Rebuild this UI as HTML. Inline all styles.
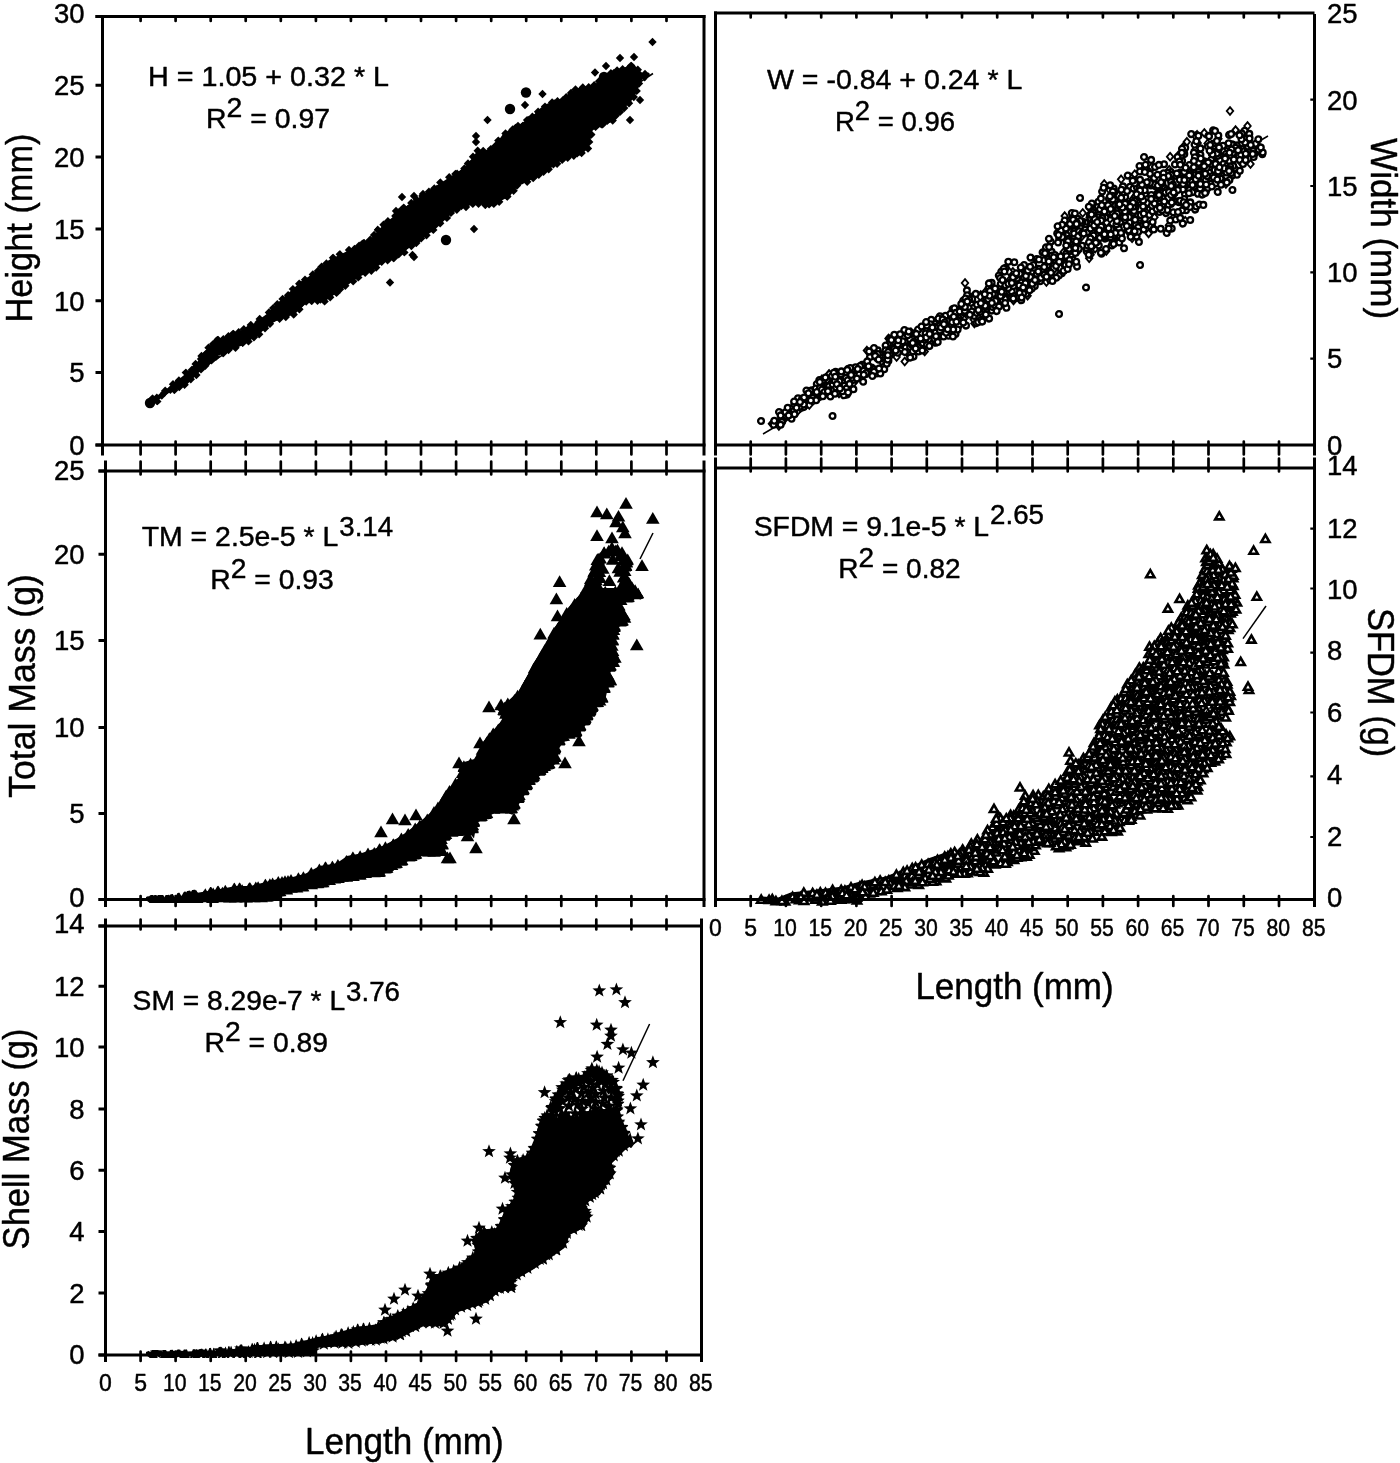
<!DOCTYPE html>
<html lang="en"><head><meta charset="utf-8"><title>Length relationships</title>
<style>html,body{margin:0;padding:0;background:#fff}svg{display:block}</style></head><body>
<svg width="1400" height="1463" viewBox="0 0 1400 1463" font-family="'Liberation Sans', Arial, sans-serif" fill="#000">
<rect width="1400" height="1463" fill="#fff"/>
<defs>
<marker id="md" markerUnits="userSpaceOnUse" markerWidth="12" markerHeight="12" refX="6" refY="6"><path d="M6,1.8L10.2,6L6,10.2L1.8,6Z" fill="#000"/></marker>
<marker id="mD" markerUnits="userSpaceOnUse" markerWidth="14" markerHeight="14" refX="7" refY="7"><circle cx="7" cy="7" r="5.2" fill="#000"/></marker>
<marker id="mc" markerUnits="userSpaceOnUse" markerWidth="12" markerHeight="12" refX="6" refY="6"><circle cx="6" cy="6" r="2.9" fill="#fff" stroke="#000" stroke-width="2.3"/></marker>
<marker id="mC" markerUnits="userSpaceOnUse" markerWidth="14" markerHeight="14" refX="7" refY="7"><circle cx="7" cy="7" r="4.2" fill="#fff" stroke="#000" stroke-width="2"/></marker>
<marker id="mo" markerUnits="userSpaceOnUse" markerWidth="12" markerHeight="12" refX="6" refY="6"><path d="M6,2.2L9.2,6L6,9.8L2.8,6Z" fill="#fff" stroke="#000" stroke-width="1.9"/></marker>
<marker id="mt" markerUnits="userSpaceOnUse" markerWidth="16" markerHeight="16" refX="8" refY="8"><path d="M8,1.5L14.8,13.2L1.2,13.2Z" fill="#000"/></marker>
<marker id="mT" markerUnits="userSpaceOnUse" markerWidth="16" markerHeight="16" refX="8" refY="8"><path d="M8,3.9L12.1,11L3.9,11Z" fill="#fff" stroke="#000" stroke-width="2.6" stroke-linejoin="miter"/></marker>
<marker id="ms" markerUnits="userSpaceOnUse" markerWidth="16" markerHeight="16" refX="8" refY="8"><path d="M8.00,0.80L9.76,5.57L14.85,5.78L10.85,8.93L12.23,13.82L8.00,11.00L3.77,13.82L5.15,8.93L1.15,5.78L6.24,5.57Z" fill="#000"/></marker>
</defs>
<clipPath id="cp1"><polygon points="146.0,399.0 165.0,385.0 177.5,375.0 191.0,364.0 200.0,350.0 212.5,338.0 235.0,329.0 250.0,321.0 265.0,310.0 280.0,295.0 300.0,277.0 315.0,268.0 326.0,257.0 335.0,252.5 350.0,245.0 367.5,237.5 377.5,225.0 387.5,216.0 407.5,200.0 437.5,180.0 462.5,164.0 473.0,150.0 476.0,133.0 480.0,147.0 490.0,145.0 500.0,131.0 515.0,122.5 530.0,112.5 545.0,100.0 562.5,94.0 572.5,85.0 592.5,81.0 605.0,70.0 630.0,61.0 641.0,66.0 650.0,74.0 646.0,81.0 637.5,100.0 615.0,125.0 596.0,133.0 592.5,150.0 582.5,159.0 565.0,163.0 550.0,174.0 540.0,180.0 520.0,190.0 512.0,200.0 492.0,210.0 475.0,208.0 455.0,216.0 437.5,233.0 420.0,245.0 400.0,260.0 385.0,266.0 375.0,274.0 360.0,281.0 340.0,296.0 325.0,306.0 310.0,305.0 297.5,317.5 275.0,326.0 260.0,339.0 242.5,350.0 220.0,359.0 207.5,370.0 190.0,387.5 175.0,394.0 155.0,407.0 146.0,406.0"/></clipPath>
<polygon points="146.0,399.0 165.0,385.0 177.5,375.0 191.0,364.0 200.0,350.0 212.5,338.0 235.0,329.0 250.0,321.0 265.0,310.0 280.0,295.0 300.0,277.0 315.0,268.0 326.0,257.0 335.0,252.5 350.0,245.0 367.5,237.5 377.5,225.0 387.5,216.0 407.5,200.0 437.5,180.0 462.5,164.0 473.0,150.0 476.0,133.0 480.0,147.0 490.0,145.0 500.0,131.0 515.0,122.5 530.0,112.5 545.0,100.0 562.5,94.0 572.5,85.0 592.5,81.0 605.0,70.0 630.0,61.0 641.0,66.0 650.0,74.0 646.0,81.0 637.5,100.0 615.0,125.0 596.0,133.0 592.5,150.0 582.5,159.0 565.0,163.0 550.0,174.0 540.0,180.0 520.0,190.0 512.0,200.0 492.0,210.0 475.0,208.0 455.0,216.0 437.5,233.0 420.0,245.0 400.0,260.0 385.0,266.0 375.0,274.0 360.0,281.0 340.0,296.0 325.0,306.0 310.0,305.0 297.5,317.5 275.0,326.0 260.0,339.0 242.5,350.0 220.0,359.0 207.5,370.0 190.0,387.5 175.0,394.0 155.0,407.0 146.0,406.0" fill="#000" stroke="#fff" stroke-width="8.4" stroke-linejoin="round"/>
<g clip-path="url(#cp1)">
<polyline points="250.8,324.9 557.5,101.2 610.9,73.3 393.7,258.2 624.2,108.0 242.7,342.9 165.2,390.7 282.6,299.0 644.7,77.3 358.3,277.4 416.3,243.1 449.2,177.2 223.2,353.3 339.8,254.2 270.0,323.8 538.8,174.7 571.0,92.9 178.9,380.4 259.2,334.2 317.5,300.7 545.0,106.6 411.4,246.0 395.3,215.9 317.9,271.0 477.7,150.8 312.8,274.5 573.8,155.7 591.4,134.6 403.7,207.6 321.6,266.8 268.9,312.4 468.0,163.5 376.2,267.6 359.1,245.7 152.5,398.4 637.8,69.7 622.6,69.2 527.2,181.8 411.3,203.0 498.3,140.6 615.6,115.7 293.7,314.5 446.9,217.9 472.8,203.9 507.3,196.6 633.8,97.0 233.2,333.6 567.7,157.8 243.8,329.3 426.5,235.2 235.5,347.8 557.1,163.8 532.4,116.8 217.7,339.5 602.6,124.4 595.6,126.9 599.1,81.2 201.5,356.0 279.6,318.7 416.7,199.9 440.3,182.5 371.3,270.8 211.5,360.4 299.4,309.3 174.4,390.0 191.8,370.0 588.0,148.5 464.4,168.5 566.2,97.2 185.8,372.6 306.2,301.5 512.7,129.4 473.0,156.7 161.8,395.6 588.7,87.3 421.2,238.3 148.3,404.3 195.6,363.9 377.7,229.8 305.0,279.8 353.2,281.2 505.5,133.5 285.8,317.0 326.4,263.4 259.7,318.9 208.5,347.7 215.9,356.9 336.5,292.9 374.1,235.0 629.0,103.3 349.0,250.0 456.8,209.8 398.7,254.3 636.7,90.9 548.7,169.2 205.3,365.7 639.0,83.6 345.3,285.8 404.4,252.4 383.5,224.8 493.8,203.9 370.2,239.8 265.0,328.3 387.9,221.3 533.2,178.1 455.4,174.0 387.6,260.3 422.4,195.9 433.3,229.9 478.5,203.8 201.0,369.4 381.7,261.8 288.1,295.2 543.6,171.7 631.2,65.6 333.0,257.7 248.5,341.4 428.9,191.7 184.6,384.7 513.6,190.7 581.6,153.0 582.8,87.4 499.2,201.8 223.3,339.2 490.8,149.1 517.0,185.6 324.6,301.4 440.2,223.3 527.1,120.1 190.8,379.2 330.2,297.2 238.7,332.3 299.2,283.8 228.4,336.2 612.7,120.6 173.0,384.2 363.6,242.5 466.0,207.0 604.2,77.3 450.9,212.9 485.3,205.1 273.2,308.1 365.2,272.7 594.2,85.3 649.9,74.5 617.1,70.4 213.1,344.1 434.3,188.4 589.2,141.9 253.9,337.3 179.3,387.1 620.0,111.9 552.1,102.5 518.0,125.9 538.1,111.7 228.5,350.0 277.3,304.2 562.2,159.7 495.4,145.9 292.9,289.1 311.7,301.1 399.4,211.8 157.3,401.4 196.4,375.0 483.2,150.9 575.5,89.4 418.4,239.2 392.1,223.4 403.0,248.7 510.3,132.5 258.6,329.0 621.7,72.4 578.7,92.1 472.6,201.0 366.6,268.6 638.7,75.6 381.4,261.1 372.8,241.0 631.6,95.7 583.1,147.2 622.1,105.5 348.5,255.3 310.0,299.3 504.7,138.4 326.7,265.5 183.5,382.3 340.0,289.3 223.0,343.3 476.2,157.1 613.4,117.0 577.2,153.2 528.9,120.0 285.5,302.0 500.4,197.5 332.1,291.2 377.9,235.6 493.3,153.3 480.9,200.6 601.3,124.3 613.8,73.1 437.0,188.9 416.9,202.1 453.1,179.2 280.7,316.6 202.3,366.6 190.4,373.2 292.9,311.2 541.6,111.1 590.4,127.5 294.4,293.8 357.9,274.4 301.3,303.9 208.5,361.5 509.2,190.0 214.4,343.5 210.8,349.0 557.6,159.0 497.2,144.8 461.4,206.1 320.4,299.6 231.1,345.9 239.6,335.5 300.9,284.9 228.4,338.5 321.9,271.0 587.3,91.2 635.6,85.8 530.1,175.6 354.5,249.0 522.7,126.0 205.6,354.3 269.5,320.7 242.7,342.5 586.4,141.4 438.2,220.4 562.6,100.5 549.0,107.4 444.9,213.6 617.6,110.7 543.4,169.8 385.4,226.4 156.8,397.7 450.7,208.5 249.8,327.6 470.8,164.3 254.3,335.2 219.1,351.7 361.2,247.2 397.0,254.5 346.9,281.4 401.1,211.5 447.4,183.7 514.9,183.9 495.4,201.7 483.9,155.4 463.4,171.3 170.4,389.7 431.4,192.7 424.0,197.0 397.6,217.7 433.1,225.8 338.9,258.7 279.5,305.4 310.1,280.0 388.9,258.5 571.6,94.4 315.4,275.7 270.1,313.4 554.2,103.4 423.3,233.1 373.0,264.7 522.1,180.1 570.3,153.3 553.4,164.3 600.4,83.1 326.3,296.3 195.0,367.8 264.4,326.1 412.0,243.4 407.8,209.3 536.8,116.1 177.0,383.4 332.4,261.2 628.3,68.7 607.5,77.0 164.4,392.7 515.5,128.0 201.0,358.9 366.7,243.6 213.2,356.9 589.6,135.2 150.9,402.5 489.1,204.4 607.2,120.7 258.5,322.3 457.1,173.8 286.2,312.2 564.1,157.2 536.8,174.2 594.5,87.4 627.7,101.1 247.9,337.6 507.1,196.4" fill="none" stroke="none" marker-start="url(#md)" marker-mid="url(#md)" marker-end="url(#md)"/>
</g>
<polyline points="476.0,136.0 476.0,142.0 652.5,42.0 595.0,72.5 542.5,94.0 525.0,105.0 487.5,120.0 630.0,120.0 640.0,100.0 474.0,229.0 446.0,240.0 412.5,255.0 390.0,282.5 414.0,257.0 396.0,211.0 402.0,197.0 414.0,196.0 423.0,194.0 396.0,222.0 645.0,74.0 634.0,57.0 620.0,58.0 606.0,66.0" fill="none" stroke="none" marker-start="url(#md)" marker-mid="url(#md)" marker-end="url(#md)"/>
<polyline points="150.0,403.0 526.0,92.5 510.0,109.0 446.0,240.0 604.0,77.0 632.0,70.0" fill="none" stroke="none" marker-start="url(#mD)" marker-mid="url(#mD)" marker-end="url(#mD)"/>
<path d="M150,402.5L653,73.5" stroke="#000" stroke-width="1.5" fill="none"/>
<clipPath id="cp2"><polygon points="146.0,897.0 151.0,895.0 167.5,895.0 192.5,890.0 222.5,885.0 235.0,882.5 250.0,882.5 275.0,876.0 290.0,874.0 305.0,870.0 319.0,862.5 335.0,860.0 346.0,852.5 360.0,850.0 375.0,845.0 383.0,842.0 394.0,836.0 405.0,829.0 420.0,817.0 432.5,806.0 442.5,790.0 457.5,774.0 459.0,760.0 472.5,756.0 480.0,740.0 491.0,727.5 500.0,717.5 489.0,706.0 501.0,702.5 516.0,689.0 525.0,672.5 530.0,662.0 541.0,645.0 550.0,628.0 565.0,606.0 580.0,589.0 588.6,570.0 592.8,555.0 599.0,548.0 610.0,540.0 622.0,545.0 635.7,555.0 631.4,574.0 644.0,598.0 625.0,606.0 635.7,621.0 620.7,630.0 618.6,647.0 624.0,662.0 614.0,673.0 620.0,683.0 611.0,690.0 607.5,706.0 600.0,708.0 590.0,725.0 579.0,740.0 567.5,741.0 560.0,754.0 565.0,763.0 550.0,771.0 535.0,785.0 522.5,805.0 514.0,819.0 500.0,814.0 480.0,825.0 476.0,847.0 467.5,836.0 450.0,840.0 447.5,857.0 425.0,857.0 400.0,869.0 382.5,878.0 370.0,879.0 345.0,884.0 312.5,891.0 282.5,897.0 270.0,903.0 150.0,903.0 146.0,900.0"/></clipPath>
<polygon points="146.0,897.0 151.0,895.0 167.5,895.0 192.5,890.0 222.5,885.0 235.0,882.5 250.0,882.5 275.0,876.0 290.0,874.0 305.0,870.0 319.0,862.5 335.0,860.0 346.0,852.5 360.0,850.0 375.0,845.0 383.0,842.0 394.0,836.0 405.0,829.0 420.0,817.0 432.5,806.0 442.5,790.0 457.5,774.0 459.0,760.0 472.5,756.0 480.0,740.0 491.0,727.5 500.0,717.5 489.0,706.0 501.0,702.5 516.0,689.0 525.0,672.5 530.0,662.0 541.0,645.0 550.0,628.0 565.0,606.0 580.0,589.0 588.6,570.0 592.8,555.0 599.0,548.0 610.0,540.0 622.0,545.0 635.7,555.0 631.4,574.0 644.0,598.0 625.0,606.0 635.7,621.0 620.7,630.0 618.6,647.0 624.0,662.0 614.0,673.0 620.0,683.0 611.0,690.0 607.5,706.0 600.0,708.0 590.0,725.0 579.0,740.0 567.5,741.0 560.0,754.0 565.0,763.0 550.0,771.0 535.0,785.0 522.5,805.0 514.0,819.0 500.0,814.0 480.0,825.0 476.0,847.0 467.5,836.0 450.0,840.0 447.5,857.0 425.0,857.0 400.0,869.0 382.5,878.0 370.0,879.0 345.0,884.0 312.5,891.0 282.5,897.0 270.0,903.0 150.0,903.0 146.0,900.0" fill="#000" stroke="#fff" stroke-width="7" stroke-linejoin="round"/>
<polygon points="583.0,588.0 650.0,588.0 652.0,538.0 596.0,538.0" fill="#fff"/>
<g clip-path="url(#cp2)">
<polyline points="559.6,740.2 402.1,860.5 155.4,899.7 368.0,854.0 633.6,591.6 480.7,754.4 346.4,861.4 604.7,687.9 434.0,812.6 534.6,668.0 455.6,784.0 291.0,887.5 474.3,821.9 393.4,844.7 486.7,743.1 385.4,847.7 178.0,899.5 442.5,844.4 628.3,597.2 610.6,680.2 519.2,797.8 278.3,882.5 210.7,892.5 595.8,565.2 498.3,730.1 196.7,897.8 466.7,830.1 514.8,804.4 311.3,873.6 566.7,613.6 446.2,796.0 302.7,886.2 239.6,888.5 540.5,770.6 581.2,598.1 597.4,702.0 411.1,856.0 457.3,830.7 451.7,831.6 610.9,666.5 298.4,878.7 470.6,764.2 235.9,897.3 352.9,857.8 188.7,894.6 329.2,879.8 374.3,853.4 626.0,578.7 482.5,749.5 554.1,633.2 487.1,813.7 504.6,708.3 261.1,897.1 415.2,828.9 489.4,738.8 614.9,657.6 527.9,681.3 311.3,884.0 493.6,808.5 203.9,897.1 615.1,626.9 531.2,675.8 319.4,870.1 505.7,713.6 379.6,871.7 217.8,896.9 438.0,808.0 506.2,720.0 353.0,875.7 317.7,883.1 644.3,598.2 272.6,884.1 234.3,888.7 525.4,685.8 274.9,893.2 249.7,887.9 590.8,580.6 534.1,777.4 325.5,867.6 576.9,732.2 622.2,612.5 522.7,691.0 541.9,656.1 246.1,897.4 613.2,634.6 556.3,749.4 622.8,621.4 611.9,548.0 434.1,851.5 338.0,877.9 511.6,808.4 611.8,645.5 279.9,891.3 291.0,880.6 212.5,898.4 544.6,765.9 549.4,643.4 586.1,592.3 408.2,834.6 589.4,586.3 145.8,898.0 604.2,553.4 568.9,733.6 514.5,700.5 580.6,726.3 229.9,897.3 429.0,851.4 391.6,864.9 620.7,599.8 574.7,604.5 612.6,650.8 607.8,675.1 586.5,720.1 360.1,856.8 416.1,854.2 549.6,764.3 218.0,891.6 612.8,640.4 561.4,623.4 597.3,559.8 502.8,724.3 618.8,605.3 627.7,560.1 223.7,897.0 401.4,839.0 629.0,583.4 622.0,552.7 427.3,820.0 184.8,898.6 591.2,711.5 523.9,790.1 167.5,898.3 555.1,756.5 442.3,803.3 493.2,734.0 379.6,849.5 161.3,898.2 265.4,885.0 337.9,865.5 538.2,662.2 517.6,696.3 602.3,697.5 365.2,872.8 373.9,872.1 477.3,761.3 285.0,881.7 594.1,572.1 462.6,772.9 529.5,779.7 463.9,766.7 346.3,876.6 441.5,850.9 225.3,891.2 481.4,816.3 507.8,703.9 558.3,628.6 593.0,706.7 444.7,835.5 571.4,610.3 172.3,900.4 638.2,594.1 332.4,867.1 419.8,826.0 626.0,565.7 449.5,791.5 472.8,828.0 303.4,877.8 322.9,882.3 424.0,851.1 270.2,896.5 387.2,868.3 360.0,874.5 253.8,897.0 296.6,887.4 461.6,779.1 255.8,888.0 193.6,893.9 501.7,808.4 587.7,715.2 617.5,550.2 563.4,736.1 551.9,638.6 286.3,889.3 565.4,618.9 396.5,863.4 527.4,785.1 544.8,650.5 624.7,570.9 190.2,899.5 545.7,762.3 551.8,750.1 277.1,887.7 482.6,814.1 435.6,847.3 425.7,823.9 558.7,736.6 623.4,590.5 396.5,859.2 490.8,741.0 420.8,850.1 515.9,702.6 590.3,708.0 451.8,794.0 544.1,655.7 565.1,623.7 408.5,856.1 441.6,809.3 451.7,828.1 506.1,723.6 458.3,828.2 293.5,886.2 572.0,612.8 527.7,683.2 599.4,565.3 512.9,797.8 599.8,693.6 488.6,807.4 623.8,559.7 611.3,654.4 380.1,852.0 286.0,888.4 249.1,890.0 342.0,876.5 512.3,805.4 518.9,794.8 297.7,881.8 635.1,590.7 331.5,871.8 304.3,881.1 542.0,665.2 499.0,731.4 602.8,674.5 581.9,720.1 596.0,580.0 624.3,566.4 378.5,868.6 521.9,788.3 497.9,806.7 508.6,714.2 314.0,882.1 472.4,825.1 481.3,755.5 553.4,759.4 608.2,637.2 600.2,558.4 577.3,603.6 414.8,850.1 467.9,770.9 195.8,896.0 430.5,818.9 613.4,661.8 419.3,828.6 528.2,776.9 400.9,841.8 351.9,861.4 562.1,631.3 258.1,887.8 263.8,892.6 618.2,606.1 410.8,836.0 615.4,592.1 532.1,677.7 356.9,872.2 392.8,845.8 479.3,761.6 234.9,890.9 428.5,849.7 605.2,592.3 366.0,868.9 321.1,872.0 504.6,806.9 361.5,861.2 623.7,577.2 615.8,550.9 323.0,880.3 525.6,689.0 627.2,584.7 441.0,838.9 346.0,864.4 590.7,591.8 372.2,871.4 388.6,850.9 552.6,647.1 282.0,882.6 619.3,597.6 159.1,899.2 184.8,896.7 463.8,780.6 334.3,878.4 618.1,619.5 258.3,895.4 586.1,598.1 242.2,890.7 574.6,727.9 553.6,741.1 374.6,856.3 620.1,571.6 591.9,699.7 602.3,685.4 486.8,751.1 613.5,629.7 599.4,571.9 607.3,649.8 608.3,682.4 387.2,865.7 222.4,893.2 606.7,664.2 627.8,595.0 608.7,551.3 567.7,617.1 337.3,868.9 269.9,884.7 536.9,673.2 456.0,789.4 562.8,729.9 348.6,872.9 213.2,894.0 609.5,643.4 471.5,817.5 510.0,706.5 535.6,767.8 599.4,588.8 521.4,696.7 555.8,632.7 230.6,895.1 445.5,833.9 401.8,854.8 590.1,584.7 525.0,782.2 624.5,617.6 444.8,800.8 367.4,859.6 271.4,891.8 171.6,898.6 611.5,623.1 436.6,813.4 586.0,713.2 474.2,766.6 620.1,612.8 554.7,640.5 466.8,828.5 288.0,881.6 503.7,710.4 315.6,876.3 599.6,700.3 496.6,737.6 205.3,894.8 151.6,898.6 569.3,730.8 238.8,896.0 533.9,774.3 542.2,767.7 245.1,896.2 178.6,897.7 458.5,783.8 441.2,849.6 511.3,720.4 309.3,877.3 546.9,649.5 536.4,667.2 612.8,559.6 604.1,552.8 596.6,585.8 609.4,580.7 618.4,568.1 626.5,562.4 602.8,568.6 599.9,577.8 621.8,585.9 620.6,556.0 598.4,559.4 624.4,576.8 613.5,551.1 586.8,588.3 632.1,588.0 594.5,571.0 590.8,578.8" fill="none" stroke="none" marker-start="url(#mt)" marker-mid="url(#mt)" marker-end="url(#mt)"/>
</g>
<polyline points="626.0,503.5 597.0,512.0 606.8,514.0 618.5,516.4 652.8,518.5 622.8,527.0 597.0,535.7 612.0,538.0 642.0,565.7 559.6,581.8 556.4,599.0 557.5,616.0 540.3,634.3 636.8,645.0 616.0,522.0 625.0,533.0 381.0,832.0 392.5,819.0 405.0,820.0 416.0,815.0 459.0,763.0 480.0,743.0 489.0,707.0 501.0,705.0 447.5,858.0 467.5,836.0 476.0,848.0 514.0,819.0 565.0,763.0 579.0,741.0 450.0,858.0" fill="none" stroke="none" marker-start="url(#mt)" marker-mid="url(#mt)" marker-end="url(#mt)"/>
<path d="M640,559L653,533" stroke="#000" stroke-width="1.5" fill="none"/>
<clipPath id="cp3"><polygon points="146.0,1352.0 151.0,1350.0 167.5,1350.0 200.0,1349.0 237.5,1345.0 265.0,1341.0 292.5,1340.0 312.5,1335.0 335.0,1330.0 355.0,1324.0 375.0,1321.0 385.0,1315.0 400.0,1308.0 415.0,1300.0 424.0,1286.0 430.0,1273.5 444.0,1267.5 457.5,1262.5 472.5,1250.0 467.5,1240.0 479.0,1226.0 495.0,1225.0 502.5,1207.5 512.5,1195.0 505.0,1176.0 510.0,1156.0 525.0,1152.5 530.7,1138.6 537.0,1119.0 545.7,1106.0 554.0,1087.0 565.0,1074.0 582.0,1070.0 593.0,1059.0 603.6,1065.0 620.7,1078.6 625.0,1095.7 623.0,1113.0 629.0,1128.0 633.6,1143.0 637.5,1140.0 627.5,1152.5 615.0,1165.0 620.0,1172.5 612.5,1182.5 602.5,1197.5 590.0,1205.0 595.0,1215.0 587.5,1230.0 572.5,1237.5 567.5,1250.0 550.0,1262.5 535.0,1272.5 517.5,1282.5 520.0,1292.5 500.0,1295.0 490.0,1305.0 460.0,1315.0 447.5,1330.0 425.0,1329.5 412.0,1336.0 400.0,1342.0 382.5,1346.5 350.0,1349.5 320.0,1351.0 317.0,1358.0 150.0,1358.0 146.0,1355.0"/></clipPath>
<polygon points="146.0,1352.0 151.0,1350.0 167.5,1350.0 200.0,1349.0 237.5,1345.0 265.0,1341.0 292.5,1340.0 312.5,1335.0 335.0,1330.0 355.0,1324.0 375.0,1321.0 385.0,1315.0 400.0,1308.0 415.0,1300.0 424.0,1286.0 430.0,1273.5 444.0,1267.5 457.5,1262.5 472.5,1250.0 467.5,1240.0 479.0,1226.0 495.0,1225.0 502.5,1207.5 512.5,1195.0 505.0,1176.0 510.0,1156.0 525.0,1152.5 530.7,1138.6 537.0,1119.0 545.7,1106.0 554.0,1087.0 565.0,1074.0 582.0,1070.0 593.0,1059.0 603.6,1065.0 620.7,1078.6 625.0,1095.7 623.0,1113.0 629.0,1128.0 633.6,1143.0 637.5,1140.0 627.5,1152.5 615.0,1165.0 620.0,1172.5 612.5,1182.5 602.5,1197.5 590.0,1205.0 595.0,1215.0 587.5,1230.0 572.5,1237.5 567.5,1250.0 550.0,1262.5 535.0,1272.5 517.5,1282.5 520.0,1292.5 500.0,1295.0 490.0,1305.0 460.0,1315.0 447.5,1330.0 425.0,1329.5 412.0,1336.0 400.0,1342.0 382.5,1346.5 350.0,1349.5 320.0,1351.0 317.0,1358.0 150.0,1358.0 146.0,1355.0" fill="#000" stroke="#fff" stroke-width="7" stroke-linejoin="round"/>
<polygon points="530.0,1120.0 634.0,1112.0 642.0,1055.0 585.0,1050.0 550.0,1066.0" fill="#fff"/>
<g clip-path="url(#cp3)">
<polyline points="147.3,1354.0 563.1,1242.9 476.5,1238.2 383.5,1338.8 459.5,1267.9 629.4,1144.1 429.6,1322.8 348.3,1343.1 511.7,1276.9 610.4,1167.7 616.3,1089.1 231.1,1352.7 586.7,1217.0 392.6,1337.0 555.1,1098.7 397.8,1315.9 443.5,1323.3 451.6,1314.3 596.8,1070.2 478.2,1251.6 594.9,1192.8 548.8,1254.6 543.1,1259.3 375.9,1339.9 323.9,1343.9 537.3,1139.0 186.2,1354.5 503.8,1219.4 363.5,1328.8 241.0,1348.6 613.8,1155.8 407.9,1311.8 290.8,1347.1 422.9,1300.1 550.6,1107.5 514.8,1201.9 618.8,1151.0 440.7,1276.5 534.8,1263.2 307.0,1351.6 494.8,1290.9 205.8,1354.4 213.7,1354.5 542.7,1120.7 516.8,1274.7 585.0,1211.2 316.1,1341.3 562.0,1087.5 511.3,1287.4 618.7,1121.9 165.4,1355.2 428.5,1293.5 569.6,1079.7 257.9,1353.4 616.9,1109.7 507.7,1210.4 156.7,1352.7 327.9,1339.5 448.3,1272.9 478.2,1302.4 538.8,1133.4 284.9,1347.4 342.3,1342.9 309.1,1342.9 625.4,1133.1 267.2,1352.4 406.2,1331.2 336.1,1336.7 422.3,1322.6 472.8,1257.9 589.9,1197.2 484.1,1232.3 467.8,1262.4 603.1,1183.8 313.1,1350.7 527.4,1268.1 273.2,1352.5 383.9,1322.5 276.3,1346.9 623.9,1145.6 172.3,1355.1 378.3,1327.3 534.3,1148.2 247.2,1353.3 566.9,1233.1 430.5,1284.6 270.6,1346.9 532.3,1153.0 478.2,1245.5 573.2,1229.1 584.2,1077.2 461.1,1306.9 630.4,1138.7 541.0,1125.9 400.3,1334.9 196.2,1355.2 581.3,1225.6 514.1,1165.3 252.2,1349.5 301.6,1343.9 556.5,1250.2 511.9,1174.7 523.1,1160.3 264.1,1348.4 370.6,1340.2 467.2,1305.5 612.1,1080.2 369.4,1328.8 355.8,1342.1 517.5,1192.1 505.1,1287.7 618.7,1096.0 390.3,1319.5 357.7,1329.7 591.5,1070.3 415.2,1326.4 322.5,1339.1 608.9,1161.7 618.2,1104.0 576.2,1077.8 606.6,1075.8 491.8,1232.3 334.4,1342.7 242.1,1354.1 220.0,1350.7 200.9,1351.9 179.0,1353.3 558.2,1094.7 280.6,1351.7 635.4,1142.4 298.0,1352.2 521.2,1271.8 236.7,1352.9 453.7,1271.0 296.1,1345.9 413.2,1308.5 500.7,1226.1 361.8,1340.9 348.1,1333.3 448.0,1319.1 490.0,1295.8 547.0,1115.6 257.4,1347.5 497.8,1230.6 433.8,1278.9 600.3,1188.9 617.6,1116.7 585.3,1200.8 514.5,1183.3 606.4,1180.0 518.0,1197.9 485.2,1299.1 622.4,1127.3 152.5,1355.9 609.8,1173.7 527.5,1157.9 455.1,1309.7 435.0,1322.9 225.5,1353.5 418.3,1306.0 517.4,1160.7 602.0,1072.8 288.9,1352.4 341.2,1334.6 472.0,1303.6 511.2,1282.0 564.3,1237.8 403.5,1314.3 511.8,1206.4 566.2,1083.7 353.3,1332.3 499.9,1288.2 454.1,1305.1 604.6,1173.1 410.0,1326.5 480.2,1254.3 566.7,1231.0 530.8,1262.9 507.2,1222.0 505.8,1279.0 585.9,1077.5 358.2,1332.5 518.3,1168.9 535.0,1149.2 228.9,1352.2 606.9,1160.6 392.7,1335.0 520.9,1270.8 563.1,1121.4 502.5,1233.7 387.0,1323.1 380.5,1337.9 472.8,1263.7 366.7,1332.7 561.7,1241.8 465.7,1304.4 621.3,1133.0 520.2,1199.0 600.9,1184.6 343.3,1342.2 578.5,1225.1 618.0,1123.4 510.1,1286.4 450.1,1315.1 472.4,1300.1 539.8,1259.2 517.2,1205.3 554.8,1243.9 592.4,1071.9 278.6,1349.4 541.6,1138.4 371.4,1338.6 298.2,1350.9 609.4,1080.8 485.4,1235.0 355.2,1340.1 396.0,1319.5 581.1,1208.1 254.5,1349.9 454.8,1274.9 420.1,1310.1 291.7,1350.9 581.8,1219.5 616.9,1100.9 592.2,1194.5 560.0,1095.6 615.8,1151.1 430.5,1321.4 221.7,1353.5 478.1,1242.2 576.5,1119.6 416.0,1323.7 585.2,1213.9 487.3,1293.5 522.1,1189.1 462.8,1270.5 548.0,1121.5 482.9,1246.7 334.2,1338.4 554.4,1110.3 515.0,1176.6 519.5,1183.6 527.5,1162.8 602.5,1115.3 611.4,1089.4 542.5,1126.9 262.2,1351.2 312.6,1343.3 534.6,1156.6 585.0,1116.3 375.4,1330.4 568.3,1087.1 184.5,1354.5 550.7,1249.9 619.4,1144.4 613.8,1110.7 440.1,1276.5 411.4,1314.9 236.8,1351.7 570.9,1081.3 350.5,1335.7 512.0,1275.4 447.9,1276.7 595.7,1114.8 581.6,1196.7 422.5,1318.9 401.7,1331.4 558.4,1104.6 363.7,1340.1 430.5,1294.6 201.3,1353.7 386.7,1334.8 327.7,1342.2 402.8,1315.5 497.3,1287.7 163.9,1354.2 572.7,1227.0 285.8,1348.2 546.2,1254.7 594.6,1186.6 302.8,1346.2 524.2,1265.4 600.9,1075.1 424.1,1305.4 613.6,1119.3 604.0,1179.4 426.8,1299.7 479.2,1300.4 441.4,1320.3 578.6,1202.0 308.6,1348.8 556.3,1121.2 510.8,1212.1 381.6,1328.7 517.3,1162.8 248.5,1352.3 625.3,1140.8 568.5,1118.0 342.4,1335.7 431.7,1286.4 494.5,1234.3 503.5,1285.0 579.1,1082.3 607.3,1166.9 491.1,1287.5 321.7,1340.7 539.5,1144.6 552.5,1116.2 270.8,1348.8 210.1,1353.0 616.8,1093.7 563.1,1235.8 437.3,1282.9 171.3,1353.6 193.8,1353.8 466.3,1264.6 178.1,1353.6 501.7,1226.7 154.1,1354.5 562.8,1090.0 608.7,1114.2 610.2,1154.1 475.3,1258.0 559.8,1108.5 564.8,1089.7 597.3,1084.6 560.5,1116.1 575.9,1089.1 599.1,1071.7 595.6,1101.9 590.4,1113.4 603.4,1091.1 565.8,1113.9 569.0,1106.0 605.2,1084.3 610.5,1088.0 583.9,1087.3 608.9,1106.0 562.2,1100.8 588.4,1092.7 584.6,1079.8 588.2,1103.1 581.9,1109.3 616.7,1110.8 617.8,1094.2 572.7,1084.1 581.7,1115.1 555.6,1101.5 591.9,1068.8 575.1,1113.6 607.3,1111.6 581.5,1093.5 577.7,1104.7 544.7,1118.1 613.2,1082.2 582.6,1101.3 611.1,1097.7 552.8,1107.3 559.9,1095.5 595.0,1108.7 601.0,1079.4 592.7,1087.9 590.6,1082.0 595.8,1094.2 604.3,1097.9 618.1,1100.9 568.3,1080.4 574.6,1099.2 578.7,1079.0 551.0,1115.7 595.1,1077.0 571.0,1092.6 601.0,1111.4 607.6,1078.4 587.9,1073.4 616.3,1088.3 568.4,1097.7 602.8,1103.6 591.0,1097.8" fill="none" stroke="none" marker-start="url(#ms)" marker-mid="url(#ms)" marker-end="url(#ms)"/>
</g>
<polyline points="599.3,990.7 616.4,989.6 625.0,1002.5 560.3,1022.4 596.7,1025.0 607.4,1044.3 622.9,1049.6 631.4,1052.9 652.9,1062.5 597.1,1057.0 618.6,1067.9 643.2,1085.0 636.8,1095.7 630.4,1108.6 641.0,1124.6 637.9,1138.6 544.6,1092.5 489.0,1151.4 510.4,1153.6 476.0,1319.0 447.5,1331.0 394.0,1299.0 405.0,1290.0 385.0,1310.0 418.0,1296.0 430.0,1274.0 467.5,1241.0 479.0,1228.0 502.5,1209.0 505.0,1178.0 510.0,1158.0 611.0,1030.0 611.0,1036.0" fill="none" stroke="none" marker-start="url(#ms)" marker-mid="url(#ms)" marker-end="url(#ms)"/>
<path d="M623,1080.7L649.6,1024" stroke="#000" stroke-width="1.5" fill="none"/>
<path d="M763,434L1268,136" stroke="#000" stroke-width="1.5" fill="none"/>
<polyline points="1224.0,157.2 944.4,320.5 1097.2,219.1 867.0,371.5 1148.6,233.4 1132.1,238.3 985.2,307.3 1173.3,217.9 1066.3,268.9 955.2,328.9 1122.5,209.2 1089.2,258.3 1106.3,251.0 821.9,379.2 799.8,406.0 1128.2,218.3 785.4,413.7 881.1,358.5 775.4,422.2 1162.0,196.6 1256.1,152.7 1218.4,138.8 835.5,382.1 892.2,349.7 1013.8,294.3 828.9,374.3 1050.0,256.8 785.4,418.0 994.7,295.3 1225.9,149.9 1210.0,178.7 1186.9,141.8 1230.1,162.3 935.2,332.7 1002.1,284.6 778.9,426.0 1229.6,147.7 1109.6,190.0 1214.4,160.5 1081.7,236.5 1138.3,202.3 1144.1,194.2 1245.7,149.9 1132.9,199.0 1178.4,188.2 963.8,318.9 1114.9,200.1 1126.8,205.3 1051.4,252.1 1182.1,187.0 1141.6,167.6 1107.4,230.6 839.0,393.4 1169.2,169.7 924.7,351.6 1154.7,212.2 1064.7,216.1 821.7,384.0 1202.7,165.7 1141.4,203.5 984.9,292.5 1201.5,159.9 965.0,283.0 1005.9,297.8 840.0,383.7 1131.2,230.4 1081.7,231.7 916.5,348.6 1153.1,227.2 1188.0,182.2 1152.1,197.1 805.9,398.0 1186.9,170.9 1005.6,299.0 1121.1,179.3 1118.0,195.1 992.9,291.1 1241.4,163.0 1238.1,154.9 1175.1,175.2 1225.9,184.1 885.8,353.3 1153.0,215.6 853.2,383.6 1192.6,171.9 1161.7,195.7 1071.6,218.3 1197.7,143.1 881.8,361.4 1201.9,173.8 1118.4,225.1 1223.7,166.0 962.3,314.3 1250.5,164.0 1215.6,160.9 1090.1,253.1 1095.1,248.7 838.2,391.5 1154.5,217.2 1223.2,159.6 1197.1,134.8 1060.3,268.3 1217.6,161.2 1063.7,251.9 1160.6,191.2 967.5,297.5 789.0,415.3 904.7,361.5 1207.6,143.5 1187.2,177.1 1151.4,168.8 896.6,357.0 1146.8,212.7 798.8,403.9 1082.7,213.0 1095.4,223.2 829.7,384.2 1165.0,187.9 1067.0,228.4 1127.1,230.3 833.8,382.8 1249.2,136.9 1249.4,149.0 1169.4,189.0 1027.6,295.8 1194.8,183.4 1204.3,133.0 1184.1,207.3 837.1,387.7 1194.9,150.0 861.7,376.8 1185.2,220.7 1241.0,155.0 839.7,388.3 1137.6,224.8 1223.4,155.3 1057.3,262.6 1104.2,183.9 985.1,297.6 1147.1,204.2 1098.5,208.3 1221.3,168.2 1220.0,160.1 1105.4,206.7 1131.6,178.0 923.8,338.2 906.0,336.1 1012.9,271.8 866.9,350.6 1209.1,175.6 1246.1,155.7 857.1,378.7 1009.2,280.5 920.4,327.9 930.7,321.6 1065.4,264.9 1137.6,197.2 1209.5,172.7 1093.2,207.7 1151.7,167.0 1112.5,223.6 1170.1,156.7 1093.9,244.8 771.9,423.8 884.7,360.0 1024.1,273.6 1178.2,155.4 898.8,346.7 1159.8,197.5 1101.4,228.5 829.2,374.1 857.9,376.8 817.1,388.5 1189.0,182.9 1073.1,237.8 1149.6,180.8 1195.1,170.8 1190.4,187.9 1142.6,223.7 1222.8,150.8 1202.6,171.2 909.4,355.4 1151.7,203.1 1132.9,203.5 1235.6,130.1 860.8,368.8 1063.7,230.1 974.4,323.4 987.9,306.0 1221.9,168.0 1212.9,159.3 1200.9,178.0 940.1,335.4 959.2,318.8 1226.6,160.9 1168.9,225.2 1134.7,174.2 1073.9,231.2 1234.8,168.0 973.7,319.6 797.3,411.6 1067.0,242.4 1149.2,225.5 1071.8,226.3 1161.2,192.9 1165.3,190.7 911.7,333.1 1195.5,136.3 1183.6,146.5 980.7,294.9 984.4,306.1 781.8,422.7 1018.3,280.8 922.0,344.6 795.7,402.6 807.7,403.3 1090.6,254.8 960.0,308.9 1247.5,126.0 1052.8,277.1 1135.7,212.4 1173.4,195.2 888.5,338.5 1083.8,228.8 1070.9,247.4 809.3,405.0 1094.2,228.4 1151.0,200.5 929.5,324.0 1050.1,271.2 1028.4,283.0 1089.6,217.3 968.1,313.7 992.6,298.8 806.5,395.9 1230.0,111.0 1087.3,226.8 1106.6,222.6 1222.9,175.6 1046.4,282.0 899.5,349.3 1008.9,271.5 1130.8,203.5 1198.6,169.9 910.9,332.2 1254.5,151.9 826.5,386.2 980.2,296.7 1101.3,209.8 1056.9,273.6 1013.5,300.5 1078.1,250.9" fill="none" stroke="none" marker-start="url(#mo)" marker-mid="url(#mo)" marker-end="url(#mo)"/>
<polyline points="1079.3,228.3 761.0,421.0 1135.2,197.0 1086.7,251.5 1245.9,134.4 1112.2,196.1 931.2,319.8 1207.2,176.1 1211.8,154.0 1072.7,259.7 889.4,338.5 1149.4,203.4 970.2,296.6 1244.4,151.0 994.5,309.3 1000.8,283.8 1092.7,214.3 1125.2,197.0 1129.9,186.7 1097.2,234.1 1205.9,191.4 1144.8,168.4 829.0,386.2 1176.9,201.3 1088.7,254.8 1133.4,188.6 1120.4,214.0 988.7,288.0 1038.5,268.7 1175.7,219.5 1231.6,158.9 1187.5,179.0 874.8,352.9 1166.0,213.1 1001.3,271.6 1232.5,144.5 1021.0,287.8 1152.6,222.0 914.1,341.4 1170.7,172.1 1065.8,234.9 1155.6,186.5 1226.4,176.3 1116.4,236.3 1018.4,287.1 1142.9,225.9 1150.8,185.5 783.8,416.8 888.4,360.8 1114.2,235.5 1128.9,226.9 1061.8,273.2 938.7,336.9 1125.2,217.5 1229.1,134.9 1102.6,210.8 798.0,398.2 952.6,309.0 1023.0,274.9 1238.2,149.0 1030.8,275.0 1184.3,154.1 1236.9,174.7 1017.9,298.0 958.9,321.8 1098.5,215.3 1167.9,173.0 832.7,384.5 943.6,336.4 1023.9,277.2 1223.0,145.7 1170.8,203.9 913.5,356.6 1154.2,178.1 1149.3,214.9 1230.4,164.9 1204.2,161.4 981.0,305.4 1085.7,224.1 1165.4,192.4 1170.8,178.6 781.2,418.7 918.0,329.6 1248.5,151.5 930.4,324.3 1259.0,147.1 1200.4,154.8 1252.4,149.3 963.5,312.3 1217.1,165.3 1212.7,143.8 1113.7,188.5 846.9,394.6 1106.1,234.0 847.4,377.7 1173.2,212.3 926.3,332.3 998.2,303.1 909.9,344.9 1048.6,263.9 1262.2,154.2 930.2,336.7 791.5,418.7 1047.9,266.3 877.7,350.4 1080.1,233.7 1038.1,277.4 976.3,323.1 870.0,357.0 1189.3,189.9 853.8,374.6 989.1,318.6 919.9,346.1 922.6,340.7 1063.0,232.6 1136.8,187.3 1105.1,238.6 1122.9,186.4 901.7,343.4 935.8,337.7 974.1,315.9 1143.7,229.4 1207.0,188.4 966.9,290.4 1170.8,174.8 1026.2,293.9 1134.6,200.8 818.5,388.8 1245.3,139.2 1247.4,148.0 1229.8,161.1 791.0,413.6 811.8,395.5 1138.9,241.9 1195.3,176.8 1213.1,130.4 987.2,297.6 962.3,306.6 1119.9,220.3 1208.5,135.7 1192.3,192.3 1228.9,146.0 1085.4,222.5 1145.2,193.8 1196.4,175.6 1233.2,165.9 1118.9,229.1 1046.2,273.8 848.3,368.7 1123.8,192.2 1098.8,214.9 1159.3,212.0 923.0,343.2 1232.1,158.6 1047.1,267.4 923.0,338.9 1168.7,177.6 876.7,373.4 1174.6,192.7 1154.8,184.5 1099.1,222.9 1111.5,214.7 1014.3,262.3 1139.1,181.2 1056.7,257.3 1186.0,210.2 1232.9,155.1 935.8,342.8 1157.1,206.4 1091.8,203.6 793.9,411.1 1129.3,207.7 1005.6,267.9 1010.3,297.6 999.7,298.5 1046.0,260.1 974.1,306.7 925.6,324.4 1148.6,202.8 948.6,335.7 875.2,369.5 1064.7,220.6 1120.3,236.2 1196.7,157.1 833.1,380.1 1060.5,261.7 1135.1,219.2 1253.6,157.0 1002.0,295.1 1184.9,194.0 1090.3,207.9 1157.7,193.0 1197.7,168.3 1226.5,172.5 1250.3,151.1 1003.8,268.6 1111.2,229.1 996.8,291.1 841.5,376.3 1057.2,233.4 1127.1,191.1 1223.5,163.8 1180.2,173.2 1038.5,276.2 969.8,313.7 853.2,379.9 904.8,341.5 849.3,386.6 1152.5,211.3 862.6,372.4 954.9,318.2 991.6,282.8 917.7,347.3 1085.2,232.5 1059.2,238.6 1172.4,195.1 1180.0,201.1 1059.0,314.0 889.6,343.0 904.3,332.4 1040.3,274.5 1113.7,242.2 773.6,424.7 1156.6,208.9 855.9,375.8 1161.6,209.7 1071.8,213.0 995.4,307.0 1090.3,244.1 1009.5,292.1 1051.6,251.9 1181.9,210.6 962.3,322.5 1197.9,193.8 1139.5,187.7 1013.9,298.8 1225.8,154.0 1212.7,175.8 1239.8,160.1 1030.9,281.1 803.6,407.1 983.1,305.6 1101.0,236.0 945.5,315.7 991.8,310.6 1135.9,225.1 994.8,294.3 977.5,304.7 1074.9,213.5 1143.7,203.7 1209.0,136.3 887.2,349.2 1136.0,233.7 1117.1,207.9 955.7,331.0 864.3,364.6 798.8,403.7 844.3,385.8 905.7,347.4 946.1,332.7 1247.9,146.6 947.6,321.1 1088.8,206.7 1220.5,178.5 954.4,308.3 1078.8,228.1 812.0,390.3 1072.1,225.1 900.6,343.8 1231.8,175.7 958.3,320.5 970.9,302.7 955.8,312.9 998.8,275.6 1015.8,290.4 1102.6,209.5 938.2,319.4 939.9,325.5 1179.8,172.9 785.4,412.2 1200.3,181.8 853.4,389.3 1230.7,156.6 1161.5,196.5 781.9,422.0 1135.4,207.6 1104.8,235.0 871.5,367.6 1183.8,151.1 1194.6,144.7 1063.5,270.8 878.3,355.4 1021.0,282.5 821.9,386.9 1183.0,173.2 1030.9,283.4 1118.0,233.2 1123.5,212.7 1245.4,132.8 1070.0,224.1 799.9,406.8 1000.0,300.8 1129.0,230.6 880.3,354.4 931.6,338.3 831.9,376.1 912.6,333.8 1125.9,214.9 1153.7,229.5 1217.9,155.7 1111.9,207.9 1031.9,271.8 1086.3,248.1 1140.0,217.8 966.0,325.6 1163.3,178.5 1195.1,209.6 1239.8,170.8 978.2,321.9 1091.7,231.3 802.1,398.6 1227.2,167.8 794.5,414.3 846.5,388.4 1146.0,203.7 840.4,378.0 812.2,396.4 1046.0,247.3 839.4,381.2 1093.5,235.6 1212.3,163.8 1099.2,202.5 1162.6,198.2 893.1,350.3 830.3,396.5 1181.2,157.5 1092.0,226.8 1256.5,150.2 1214.6,170.0 834.7,380.6 1036.6,259.1 1194.2,186.5 990.1,304.5 1262.7,152.6 955.5,333.9 787.7,407.7 939.8,316.3 986.4,298.3 1011.8,291.5 1160.7,228.7 897.4,350.2 1021.2,300.3 1099.8,238.1 1145.9,224.6 1155.0,166.9 939.9,330.6 893.6,344.2 1116.4,224.3 1077.9,220.0 1075.1,247.8 1182.1,161.0 1066.3,253.4 841.0,374.2 985.2,305.7 1097.8,206.7 1185.2,147.7 1077.6,218.7 1106.0,249.0 1244.7,130.7 1126.7,211.7 1008.3,287.9 1065.1,238.4 1116.8,219.0 1107.7,208.2 1066.7,235.2 1081.2,226.4 1019.7,288.7 885.6,345.6 1229.4,180.1 1072.0,249.1 1050.7,241.8 1017.0,278.4 992.8,293.9 1167.3,210.1 820.0,384.8 1205.7,163.3 1211.1,183.7 1169.0,191.9 1115.4,205.2 997.3,301.7 1188.8,172.3 859.3,374.4 873.7,369.6 981.2,319.8 1048.2,263.9 1192.2,181.8 1120.9,234.9 895.3,342.9 1062.7,235.2 943.5,323.6 910.1,347.0 1198.4,135.8 1070.5,251.0 930.0,328.7 1064.3,257.2 958.7,325.5 1100.0,209.2 1156.4,194.5 1077.9,240.4 1195.7,161.9 1072.0,241.3 1000.5,295.9 1213.8,177.6 1067.4,248.7 1068.7,238.9 882.5,357.2 1171.0,195.0 1231.9,144.6 1004.4,271.6 1148.7,184.2 1117.8,208.6 1254.3,149.0 1184.3,199.0 1211.1,159.8 963.3,322.5 1127.8,203.6 1237.2,145.4 800.3,402.6 971.9,311.5 1212.8,151.5 1058.0,259.9 992.5,306.9 918.0,337.6 927.0,326.7 873.9,348.1 910.2,357.6 1082.2,245.8 1200.7,173.8 996.4,308.3 1112.4,241.0 808.0,392.8 867.2,361.4 927.0,344.7 1162.3,183.2 1126.9,209.9 1111.6,245.5 1197.3,160.2 1119.7,236.7 959.7,311.4 1226.3,156.8 1182.0,148.8 1107.0,237.1 828.6,390.4 819.3,380.0 886.7,363.8 1123.2,215.5 1255.6,143.8 1031.8,278.5 1210.6,163.9 1166.7,232.9 1207.9,146.5 1108.9,198.8 1166.4,177.3 874.0,371.7 885.5,350.4 1091.6,224.8 880.0,357.6 1102.1,191.6 1162.4,205.7 835.5,371.9 911.6,344.6 1101.4,253.6 1215.4,183.4 1073.3,250.2 991.5,303.7 1168.2,176.0 861.9,364.9 1147.2,203.1 1025.4,283.3 1074.1,233.4 884.2,369.2 1153.5,196.1 1110.6,237.2 1043.9,260.2 1116.7,213.4 816.8,384.0 927.2,328.9 1072.0,244.8 1143.2,200.6 1098.4,201.7 1162.2,210.1 1249.3,133.9 1174.9,164.4 918.5,351.4 1177.5,157.1 1090.4,238.6 908.3,333.9 1136.6,236.6 1133.5,213.0 1228.7,165.2 1232.7,153.3 1067.6,269.0 1101.2,226.6 1218.9,173.6 972.2,298.9 845.8,378.0 1230.6,157.7 1149.9,183.1 1190.3,202.4 934.2,338.7 921.5,326.6 815.7,388.6 820.7,394.8 925.6,333.4 989.9,290.9 894.2,348.7 1152.5,203.6 1133.3,233.0 1010.5,282.3 912.8,351.3 1188.9,193.2 841.3,371.4 1207.5,188.1 1013.6,296.3 957.6,329.6 1109.9,212.5 1120.7,221.8 1184.7,184.7 1048.4,259.3 1108.6,228.3 1206.7,168.1 1187.6,174.1 812.6,398.1 1114.2,192.6 1077.0,266.6 1034.8,285.9 1196.2,206.4 900.7,350.6 947.8,328.7 1056.0,266.0 1180.0,188.0 951.9,317.6 820.0,388.0 1129.1,205.7 1044.2,275.1 1023.1,293.5 877.7,354.1 1242.2,143.4 1115.4,233.0 843.8,395.3 1208.1,162.4 977.0,304.8 904.3,330.1 926.9,325.5 1217.7,191.9 1018.0,274.2 1171.1,182.1 1227.0,166.1 952.2,322.2 1157.5,174.7 1112.8,191.4 1099.3,230.3 934.7,326.9 988.3,299.2 1168.4,204.5 1258.3,139.3 1186.7,206.3 1089.8,214.8 1245.7,153.8 1190.2,220.0 1159.1,197.6 1005.4,285.2 1052.2,258.3 1228.6,143.2 1061.0,230.5 817.4,393.8 1144.9,219.1 1157.2,195.8 1130.6,236.8 794.3,404.4 890.8,339.5 1121.2,197.8 1000.1,278.0 1101.8,205.2 1146.9,182.2 964.8,310.8 1229.2,161.0 1138.2,215.3 1120.6,212.2 1144.7,190.2 1258.6,149.6 1031.8,288.6 891.4,340.0 1123.0,217.5 876.9,358.1 993.8,303.6 1048.9,238.8 1211.8,186.5 1151.6,196.9 1139.5,166.0 1253.1,151.1 1058.8,275.5 1179.4,161.6 1200.1,188.4 941.0,327.5 1129.4,222.5 903.4,337.8 1218.1,169.6 1176.8,173.5 999.0,305.4 1198.9,171.8 842.4,391.2 1248.1,142.9 937.7,342.0 1108.0,205.2 1216.4,152.3 953.2,329.4 875.1,355.9 1178.9,202.2 1139.3,193.2 1104.3,236.0 914.7,333.2 1052.0,255.5 1218.3,135.6 1171.7,228.6 1151.3,195.1 1200.4,184.1 1068.2,239.6 1036.7,274.1 1164.3,201.5 1181.8,152.8 1060.6,256.5 1171.7,202.4 1217.3,179.6 1073.9,219.8 1134.0,211.0 1098.8,245.5 816.7,392.1 1054.8,255.0 1182.9,189.6 1019.3,285.5 1184.2,172.0 869.1,351.4 1011.5,297.8 1138.1,227.2 803.7,403.0 1125.1,203.8 1191.2,134.1 1140.0,265.0 1096.3,242.3 1194.7,177.0 1119.2,242.5 1014.6,276.2 822.8,380.4 1006.4,307.8 1005.1,303.1 1225.1,158.6 1085.5,227.3 822.4,395.8 967.1,295.3 1092.9,212.5 929.9,332.0 779.0,412.0 928.6,339.5 1049.1,246.9 1082.5,221.7 1066.6,256.3 1133.1,206.8 1111.2,198.5 994.8,305.0 1155.0,200.4 1177.7,189.9 865.4,374.3 907.8,335.3 1141.9,184.7 969.1,299.4 1245.1,142.6 1193.8,175.1 902.7,341.3 1079.1,231.3 952.9,336.5 804.1,397.5 1164.0,164.3 1190.7,175.9 1034.0,267.8 1112.0,195.8 1168.7,228.6 1180.3,164.7 1216.9,140.9 1103.6,187.8 1065.9,228.6 1040.0,281.2 938.4,318.5 964.9,307.1 1037.6,279.3 1215.5,163.9 999.0,306.6 1216.8,153.4 810.3,390.9 847.6,380.3 1124.3,211.8 897.8,352.7 1050.9,272.8 1002.5,280.1 1076.2,261.8 982.2,321.6 1078.8,248.8 1030.2,277.0 950.4,313.8 926.1,322.1 1038.9,259.5 834.9,393.7 1128.9,217.0 953.8,316.7 1062.2,236.9 1124.9,219.7 868.1,369.1 1199.7,164.3 1058.5,235.1 1152.0,205.8 863.4,370.8 1085.3,229.7 1024.0,265.1 1041.0,277.7 1170.2,220.4 1118.1,205.1 1121.0,233.1 1198.7,162.8 1233.8,159.4 1019.6,292.9 1224.2,168.2 1105.5,217.4 1202.2,194.6 1113.6,244.0 1133.0,202.7 894.3,334.7 1145.5,164.8 1182.7,223.6 1231.4,173.1 976.8,313.0 816.1,400.2 1218.8,148.9 947.7,329.2 1112.9,199.4 1232.4,190.0 1192.5,185.1 1180.2,200.7 1193.9,152.8 774.3,420.7 1250.7,145.0 924.7,339.6 1078.2,236.2 1100.9,252.8 1112.3,212.2 963.2,300.6 1235.6,147.7 1163.5,173.3 1143.1,206.5 1069.5,259.9 1183.1,183.9 895.7,350.5 825.4,377.6 1098.6,217.2 1032.3,283.7 995.5,301.0 819.8,382.0 1179.7,179.8 979.9,312.1 1081.9,233.1 1094.8,219.1 1196.4,141.2 836.2,387.6 1013.5,286.1 1054.4,259.6 1134.9,231.1 1125.0,211.5 1087.6,245.4 821.9,389.5 1140.7,215.1 788.6,415.4 824.4,392.0 796.5,407.8 780.6,424.8 1023.2,287.5 1087.0,232.6 1135.2,180.1 1008.4,283.8 1073.0,247.0 1157.9,185.6 827.9,391.2 1089.0,242.3 1163.5,177.8 1173.6,192.4 1083.7,233.6 1038.2,271.4 1025.9,275.9 806.4,390.5 1069.1,248.8 1189.2,165.1 1140.0,190.4 1075.3,252.9 1219.0,147.5 1081.2,222.8 860.0,366.1 852.3,377.8 995.1,288.6 1218.1,171.6 1149.9,173.8 1030.5,257.6 1042.6,252.4 855.5,367.2 1013.0,277.2 904.8,352.0 1183.7,202.2 1180.2,218.0 856.9,378.5 1215.0,131.0 1053.7,257.3 803.7,404.4 1027.9,270.6 1159.9,207.8 897.8,344.6 956.4,321.7 1130.2,206.8 1206.2,184.6 1154.4,203.4 989.5,295.8 1200.5,148.4 1100.9,198.4 1045.0,253.2 1104.4,211.4 1140.0,179.7 794.1,401.5 1151.2,198.9 1226.8,182.4 1090.5,228.6 890.2,353.7 887.7,359.6 1219.4,167.2 850.2,368.1 975.7,293.9 836.9,384.2 1068.0,241.3 1212.5,154.4 1135.1,219.8 1172.9,184.6 886.8,354.1 1080.2,221.1 1260.8,147.5 866.0,373.1 1117.0,213.5 1101.7,218.4 1252.7,153.9 1178.0,212.0 1159.0,195.0 991.8,303.0 1019.7,273.8 880.3,373.4 1020.8,267.5 1062.1,224.7 1073.2,219.7 1126.7,226.0 1116.9,221.1 879.0,368.6 810.8,400.5 1230.1,166.5 1241.5,139.2 1047.5,265.2 932.4,327.4 1205.1,173.8 1102.5,218.3 1058.0,242.5 1243.0,164.0 1194.9,157.2 1048.8,261.6 1076.8,222.8 912.7,343.1 1110.6,209.1 1101.1,220.6 1095.8,242.7 1204.2,166.3 1091.3,246.3 1228.9,169.0 926.1,337.6 1121.9,238.5 833.8,372.7 1134.8,183.4 1057.6,226.3 1121.3,189.8 1241.8,133.6 942.6,319.4 1210.2,145.1 978.4,310.1 1091.5,214.6 1231.1,134.0 888.1,352.0 1171.2,185.9 1059.2,261.8 1044.4,274.8 1138.2,231.8 1050.1,280.1 1035.0,279.9 847.3,369.9 1069.0,264.2 868.5,366.3 920.6,338.6 839.9,388.4 936.0,336.3 1142.1,171.3 1033.3,265.0 1030.1,266.8 1011.8,283.1 887.8,355.2 851.1,375.0 1238.1,150.2 1008.3,261.7 1110.1,185.3 965.4,298.5 980.8,303.3 1122.5,207.5 1229.1,170.9 915.6,348.6 996.6,311.1 969.8,314.7 1239.5,135.2 1193.9,161.1 1046.5,276.7 1195.8,179.3 1124.0,248.3 908.7,331.6 1189.2,175.5 1013.3,298.6 1001.7,291.8 1134.6,231.2 1076.2,241.4 1021.6,297.6 1110.7,234.4 1209.6,150.7 1056.2,277.8 1076.5,224.1 1245.6,160.1 929.4,346.1 1074.0,246.8 984.7,294.3 1199.3,204.5 1016.2,273.3 1249.5,138.6 1094.1,225.6 929.6,334.0 1044.2,266.9 1029.5,290.3 848.1,392.4 944.7,322.3 1205.1,193.1 1151.1,159.9 1200.7,158.5 1097.2,222.0 988.9,283.4 835.3,376.7 1125.1,217.2 822.8,396.2 1136.6,194.2 878.6,359.6 863.7,374.8 863.1,381.7 985.8,314.4 916.3,334.1 1144.0,157.0 1199.7,174.4 1127.7,175.6 1141.2,196.6 1231.5,149.6 849.5,383.9 1139.9,171.5 1203.3,204.9 808.4,393.2 857.7,369.0 961.3,303.9 780.6,415.4 1052.4,280.9 832.5,416.0 1086.0,287.5 1109.9,196.3 1066.2,245.5 922.3,350.4 1193.8,167.3 900.1,334.2 1189.9,207.0 1075.4,247.9 1198.4,175.7 1186.1,204.9 1132.7,180.8 1161.1,182.3 1119.5,204.2 1158.8,164.9 1185.6,167.8 1080.0,198.0 872.3,376.0 1143.7,213.6 943.9,324.2 1229.5,152.7 1144.8,172.0 1221.0,184.8 898.3,340.3 1104.5,234.2 967.3,301.4 1114.7,216.0 1184.4,179.9 800.0,401.9" fill="none" stroke="none" marker-start="url(#mc)" marker-mid="url(#mc)" marker-end="url(#mc)"/>
<path d="M1243,638.6L1266,606" stroke="#000" stroke-width="1.5" fill="none"/>
<polygon points="754.0,897.0 761.0,893.0 777.5,894.0 790.0,889.0 817.5,886.0 842.5,883.0 860.0,878.0 885.0,873.0 902.5,866.0 927.5,855.0 945.0,849.0 960.0,843.0 957.5,878.0 940.0,885.0 910.0,890.0 885.0,893.0 860.0,904.0 757.0,904.0 754.0,900.0" fill="#000" stroke="#fff" stroke-width="7" stroke-linejoin="round"/>
<polyline points="1104.3,762.7 841.2,899.7 1228.0,575.3 1200.4,748.2 1104.5,741.8 1214.9,758.9 1216.0,656.0 844.3,899.2 1211.9,640.7 1202.3,627.2 1214.4,709.7 979.6,858.7 1188.2,793.4 1207.5,643.8 1111.1,725.2 1240.7,662.0 1021.7,831.8 1084.9,779.7 1050.7,818.5 1184.9,648.1 1178.2,723.4 1182.0,790.7 1049.5,833.8 1173.5,780.2 1121.6,728.7 1226.7,692.5 1013.7,815.6 1180.7,748.8 1092.1,817.3 792.6,896.9 1134.2,690.8 1103.1,739.2 1137.9,795.6 1151.4,674.4 1047.6,818.4 1178.6,717.2 1130.6,773.5 1204.1,609.8 1221.7,705.6 1169.2,791.3 1157.0,649.8 1086.9,823.2 1206.1,758.2 1178.2,664.5 1228.3,605.5 1073.9,817.4 1148.8,800.9 1096.5,796.7 1222.5,615.7 1225.2,618.0 1181.9,798.0 1168.0,802.7 1132.3,682.9 1055.3,819.6 1146.5,681.0 1203.3,577.4 898.8,883.0 1020.9,843.3 1111.1,707.5 1227.3,589.9 1206.2,710.4 1150.2,758.7 1221.7,599.9 1193.5,651.8 1182.5,620.2 1141.3,717.8 1125.3,768.3 1136.7,779.2 1181.2,617.8 1068.4,800.7 1137.2,765.6 1140.0,815.5 859.9,886.4 1216.1,747.2 1018.8,850.2 853.8,892.0 1196.4,724.6 1118.0,817.9 1215.0,679.0 1173.8,746.7 1063.9,782.5 1080.2,819.2 1139.3,767.4 1200.9,714.5 1178.1,805.4 1138.1,710.7 1090.7,814.6 1159.0,750.0 984.4,850.1 1178.1,747.8 1148.2,773.4 971.3,843.7 1185.0,764.4 1173.1,796.2 1181.5,701.4 1209.6,734.3 1161.1,779.4 1135.4,673.9 936.1,881.1 1020.9,857.1 1182.3,766.7 1118.4,774.6 1222.1,711.7 775.9,901.3 1069.4,841.6 1150.3,775.2 1201.6,611.7 1201.1,644.2 1157.2,710.8 1191.6,772.0 1200.7,672.7 912.2,868.1 1100.9,731.7 1167.9,608.6 1174.5,790.7 1117.1,803.2 1194.3,684.4 1041.5,819.4 1059.6,791.6 1162.5,800.2 1230.9,609.2 1227.0,681.7 1213.5,634.1 1221.6,753.5 1201.0,669.7 923.0,870.4 1217.0,757.1 1118.1,799.9 1097.6,761.3 1150.5,793.0 876.4,887.2 1163.8,746.9 1157.2,739.0 1206.7,747.4 1156.8,786.5 1129.8,813.1 1190.6,729.9 1070.5,760.7 1120.0,759.1 1170.5,687.3 1030.0,805.6 1221.3,728.7 976.3,866.4 1101.5,814.1 1198.2,707.7 1178.3,627.3 1020.0,787.5 1178.0,681.3 983.9,872.8 994.8,849.5 1112.1,773.9 1161.1,698.3 1148.8,783.3 1217.4,689.9 1205.3,675.3 1099.5,725.2 954.7,867.5 1211.5,573.1 962.3,857.3 1109.9,781.6 1189.8,750.3 1151.8,763.5 997.0,847.1 815.4,899.7 1083.5,819.8 1142.3,794.1 1092.4,787.4 1212.6,647.1 992.2,839.4 1058.8,787.1 1054.5,824.9 851.0,887.4 1226.7,627.3 1179.5,659.2 1166.0,660.0 1175.8,657.3 825.5,895.9 1158.5,806.1 1200.7,737.8 1025.2,795.7 1008.6,820.4 1099.2,810.5 1220.1,578.0 1000.1,848.9 1038.3,794.9 1223.4,580.3 1030.2,819.5 1087.8,829.3 1202.0,684.5 1161.7,764.5 1174.0,704.0 922.6,873.1 1108.5,722.8 1131.5,802.7 1100.7,820.2 921.7,864.8 1020.3,823.2 1113.1,719.7 1164.4,650.9 1180.8,707.4 973.1,868.2 903.3,872.0 1128.8,732.9 1218.9,563.4 1181.0,643.2 1135.5,785.8 1130.7,727.7 1093.6,754.2 1096.9,749.6 1223.6,638.8 1188.0,667.1 1123.8,727.0 1158.1,768.0 1053.0,797.5 1162.7,720.4 1157.9,642.6 937.5,860.0 996.1,852.5 1152.5,694.3 1158.9,687.8 1193.2,622.6 1132.1,715.6 1143.3,681.1 1215.1,704.5 1059.5,820.6 1036.6,824.1 1124.9,788.3 1138.6,700.3 1220.5,635.7 811.5,897.5 871.7,888.9 1110.0,777.0 1115.6,721.6 1075.8,788.7 1121.7,818.5 994.4,834.9 1168.7,747.7 1131.1,730.7 1128.5,785.2 1117.3,753.9 1140.2,806.3 1114.9,760.8 1104.6,725.5 1197.1,690.5 910.2,880.9 1216.6,647.4 1153.4,802.6 1193.0,747.1 997.1,829.0 1216.8,586.6 1030.7,816.9 1122.0,798.4 1124.2,776.3 1185.8,663.5 1084.5,785.1 1187.3,608.1 1135.8,693.4 1160.5,725.8 1177.9,698.2 1053.1,835.3 1109.8,799.8 1057.5,838.5 1099.4,803.6 1174.3,722.2 1222.8,634.1 1139.3,800.7 1223.0,596.9 1041.4,832.2 1192.5,679.1 1127.1,792.7 1159.5,707.3 1228.3,629.9 1163.9,645.6 1163.1,795.0 1085.7,842.7 1019.4,815.4 1150.7,683.5 832.6,889.9 1215.4,578.4 1140.1,772.3 1225.3,698.4 1229.8,736.2 1173.5,762.7 1189.8,678.6 1137.0,802.5 1214.7,645.3 1106.2,810.3 1079.1,821.9 1144.1,686.8 872.3,884.9 769.1,899.9 1198.9,735.0 1117.8,767.1 1032.9,818.2 1184.8,712.4 1112.0,759.3 1201.5,618.0 1150.4,768.2 1215.7,570.9 939.9,861.9 805.0,895.9 1119.1,717.8 1141.3,764.0 1136.2,805.9 1039.9,813.8 1066.7,780.5 1169.7,698.2 1097.4,754.5 962.6,849.6 1117.6,831.5 1121.0,731.4 1064.4,821.4 1236.9,602.5 1150.3,686.5 1211.2,693.5 1133.9,754.5 1083.4,758.1 1038.1,842.3 1113.3,786.8 1234.2,599.3 1193.2,764.0 1132.5,708.0 1107.4,781.2 1080.2,804.1 1129.0,697.4 1104.4,774.6 844.9,890.7 1179.4,758.5 1127.9,759.6 1172.2,649.7 1110.2,803.0 1210.0,748.2 1217.1,601.5 1185.0,616.7 1224.2,599.3 1098.0,806.0 1210.9,739.9 1114.6,711.5 888.8,880.5 1216.1,664.7 1194.6,701.4 1136.7,702.1 1186.8,619.8 1221.2,675.5 1164.6,678.8 1210.5,623.3 1209.9,613.9 1191.5,631.2 1043.3,796.4 1073.2,798.8 1072.5,768.5 1099.2,770.3 1127.8,746.3 1137.1,682.5 1170.6,664.4 1135.0,706.1 961.8,852.2 1168.3,635.5 840.8,896.0 1192.3,608.7 1111.2,762.2 1209.3,591.5 1200.6,717.4 1168.9,759.1 1090.0,769.1 1198.1,620.1 1199.8,772.2 1108.9,757.1 1182.8,682.1 1202.3,574.9 1181.3,692.7 1185.5,787.0 1208.7,723.6 1145.1,709.8 772.3,899.3 1167.9,738.5 1117.9,778.2 1180.6,665.6 1160.4,792.2 1139.3,667.6 1212.5,676.0 1201.6,720.0 1009.1,849.3 1198.4,630.4 1218.9,680.1 1096.8,812.6 1215.7,611.5 1107.8,795.4 1123.2,705.8 1193.1,656.3 1190.2,754.8 1154.7,759.9 1148.4,723.0 1127.3,684.3 1167.3,715.5 1131.4,793.9 1177.4,703.4 1173.9,659.6 985.6,865.4 1206.5,716.8 1213.3,691.2 1186.8,659.9 1134.0,736.8 1219.9,616.5 1133.4,725.4 1189.0,641.0 1026.6,856.7 1202.3,730.3 997.3,836.2 1013.9,859.9 970.1,846.5 838.9,898.6 1193.4,714.8 1201.9,661.9 954.6,852.1 1146.9,751.4 1231.5,601.3 1087.0,794.2 857.3,892.4 1103.0,769.5 1190.8,639.2 959.4,854.0 1031.1,833.5 945.8,878.4 1028.5,802.0 1006.9,824.0 912.8,879.3 1160.1,679.9 1046.3,793.5 1199.7,676.1 1126.3,726.3 1211.7,595.0 1107.7,823.4 1150.8,797.9 1213.7,753.2 1209.4,567.5 1131.5,699.3 854.3,899.0 1143.3,667.5 1175.6,748.9 967.0,857.5 1197.5,658.2 1130.0,692.6 1186.6,612.4 1153.6,777.0 1150.2,730.2 951.2,873.7 1139.0,780.8 1092.8,819.8 977.4,839.4 1080.9,811.8 1184.6,797.9 994.0,809.0 915.7,873.0 1065.7,785.1 1054.0,801.1 1215.6,594.6 1010.6,815.0 1218.6,705.4 1153.0,668.7 1175.3,802.1 1149.5,646.8 1218.2,698.9 1107.8,773.9 1130.8,745.7 1198.4,585.4 1183.6,718.2 1111.5,748.0 1188.6,621.8 1100.6,806.5 1109.3,807.4 1172.0,735.5 1143.0,805.4 1157.1,694.4 1077.3,783.3 1213.0,563.0 1068.1,783.6 1054.5,786.9 1165.6,789.3 1154.2,747.3 1175.5,665.7 1013.9,852.4 1127.4,798.3 934.8,862.8 1222.7,569.4 1046.0,835.1 1007.0,853.5 1050.4,839.7 1196.9,748.1 905.1,875.8 1000.4,824.8 1146.8,670.3 1158.5,777.6 820.3,892.5 1167.1,639.9 1189.4,654.7 1204.5,634.1 1032.0,836.1 1187.5,800.2 1225.1,574.5 1139.1,784.2 988.5,859.6 1123.3,770.0 979.2,847.9 1206.7,550.1 1008.7,843.4 1173.4,724.9 1087.4,812.9 1230.7,695.9 1121.6,766.4 1195.2,732.4 1161.6,668.3 1174.4,799.1 1167.4,756.8 1124.6,820.2 819.6,895.8 1227.3,582.4 1218.9,627.6 947.9,856.2 1213.5,575.2 1039.4,827.4 1031.1,850.6 1154.5,744.4 1052.3,829.6 1184.1,724.8 1211.9,607.3 1018.3,818.4 1138.3,757.5 1124.1,813.0 1221.9,696.6 1148.8,653.9 936.0,878.0 785.1,901.5 876.0,890.9 1195.1,754.4 849.9,894.1 1122.5,782.5 1162.8,673.0 1167.3,657.4 1212.9,567.0 1192.1,661.0 1074.0,812.5 1070.6,831.1 1145.8,726.3 1114.6,810.9 990.3,835.1 1179.9,772.8 1182.6,737.3 1026.3,826.0 1158.0,802.8 1113.4,767.7 1185.1,702.8 1176.3,690.1 1149.7,750.8 1210.6,578.9 1160.6,689.7 1016.9,845.6 1066.0,835.9 1112.6,754.1 1217.3,750.4 1165.9,801.2 1174.8,668.2 1110.2,715.0 1215.6,724.1 1215.3,637.9 1146.4,666.4 1119.7,755.3 1227.5,708.3 1085.6,799.3 1187.0,753.6 1137.8,746.2 1174.3,776.7 928.3,873.9 1151.2,754.1 1173.3,630.5 1166.3,686.3 1103.0,719.8 1222.5,660.1 1049.7,826.2 1186.3,710.2 984.9,847.1 1081.9,806.5 1105.4,771.0 995.9,841.5 1188.8,718.2 918.4,874.7 1183.6,673.1 1097.8,767.8 1042.4,827.7 998.4,816.6 967.5,873.2 1103.1,757.1 1132.9,777.4 1098.9,784.2 1141.7,700.7 862.1,884.9 1084.5,829.7 1177.0,798.7 1229.9,691.6 1072.6,772.8 1174.7,713.3 1086.0,818.4 1172.4,718.1 950.6,862.9 914.6,883.8 1217.1,614.8 965.0,868.8 1073.1,787.2 1203.2,595.7 1233.1,578.3 1178.4,622.7 1180.3,685.7 1087.8,836.9 1046.8,809.8 1185.9,743.5 1233.3,585.9 969.0,850.0 1127.5,781.0 1010.3,818.4 1150.7,691.3 1218.7,671.2 1170.1,796.1 1156.7,667.7 1182.5,634.5 1207.2,699.0 1210.9,762.6 925.6,868.4 1207.1,596.8 1168.8,769.2 1124.8,729.3 1221.6,643.8 1048.8,788.9 1166.4,729.7 1195.6,704.4 1095.0,786.4 1156.0,799.7 1100.9,754.9 1188.7,644.9 1076.2,799.4 1223.9,703.8 1046.0,840.4 890.4,883.5 1174.7,734.0 1118.6,770.7 1125.2,765.0 1190.5,781.9 1098.4,780.8 1226.4,742.3 950.8,853.5 1115.7,783.0 1205.0,664.5 899.7,877.0 979.4,865.5 1213.9,585.3 1191.4,676.5 1057.5,829.7 1037.7,830.6 1123.9,723.7 1111.4,711.4 1165.0,669.4 1223.4,733.8 1221.1,748.0 1091.5,793.2 1033.0,844.5 1077.0,767.4 1167.2,642.4 954.9,863.3 1205.7,752.7 944.7,856.6 1081.2,838.1 1122.4,778.7 887.9,885.8 1186.9,733.8 1080.0,841.2 1217.6,716.1 849.0,896.9 1207.2,694.8 1116.1,750.2 1205.6,558.3 1127.4,730.9 911.9,875.7 1095.2,821.3 1117.4,699.5 1195.3,774.3 1083.7,812.8 1213.2,554.3 1016.6,836.4 1144.2,713.2 1152.9,678.4 1147.1,744.5 1057.4,805.3 1178.3,641.5 1140.9,740.3 1154.3,646.0 1171.3,627.7 1176.6,645.1 1187.5,691.6 1230.5,613.5 1187.7,628.7 1185.8,792.1 1187.8,605.4 1176.5,787.3 1169.2,777.9 1152.9,741.9 1223.6,590.2 1118.3,743.9 1212.0,698.9 1160.5,752.4 1212.7,569.9 1165.9,681.1 1189.1,773.2 1040.3,825.0 1104.6,814.1 1200.0,583.2 915.6,867.4 1228.6,710.8 1148.5,789.0 1020.6,836.6 1204.3,695.5 1207.2,659.1 1216.1,721.4 1071.1,791.5 1193.3,737.3 1129.6,757.3 944.0,863.4 968.2,869.6 1161.1,738.0 1033.7,802.6 1168.4,630.8 1154.9,674.8 1214.6,609.1 1174.9,716.9 910.6,884.5 1010.4,825.8 1185.4,690.1 1198.1,765.1 880.1,880.6 983.0,852.6 1164.2,683.8 1199.3,608.3 1204.9,569.0 1206.9,743.4 1065.6,800.8 1000.6,818.4 1179.7,655.0 1200.7,600.5 1122.2,794.4 1068.5,835.6 1134.8,763.2 1149.2,720.3 1082.2,835.4 1002.8,828.5 1015.4,841.8 1202.8,614.3 1199.6,699.5 868.3,887.7 833.0,893.7 1208.4,653.2 1207.0,627.3 1233.3,575.7 1024.1,822.2 1108.7,734.2 1208.0,761.8 1093.6,808.2 1182.6,698.3 863.8,894.5 1088.6,765.9 1207.6,661.8 1101.2,791.2 1119.5,782.2 1120.9,698.5 1212.3,701.8 1051.8,793.5 906.2,880.9 1217.7,742.7 1105.4,787.1 1003.1,822.3 1007.4,862.0 1167.9,662.5 1149.6,708.3 1172.1,655.3 1213.9,661.3 1027.3,848.4 1145.8,706.0 1221.8,585.4 1157.1,705.9 1194.6,768.9 1201.1,654.5 1120.1,828.0 1182.0,622.7 1166.9,700.8 1031.5,838.8 1069.0,804.4 1201.0,761.7 1233.0,607.5 1000.5,835.2 1067.6,771.7 1197.9,786.9 1150.0,704.0 1153.5,699.4 1159.0,760.1 869.6,893.5 1105.2,716.9 964.5,873.8 1226.3,609.6 1151.4,805.4 1227.2,684.5 1191.1,612.9 1115.2,816.1 1166.0,796.2 1164.0,693.3 1154.8,684.2 1211.7,598.6 1034.3,850.8 1172.1,739.2 1077.0,811.7 1131.0,816.6 1211.7,628.5 936.1,874.8 1231.4,568.6 1222.9,743.4 1118.7,704.8 1146.0,754.0 938.7,876.1 1127.9,769.5 1090.7,802.9 1178.3,731.7 1206.3,719.5 1175.3,675.0 1210.4,554.2 1161.0,686.3 1219.6,624.7 1187.3,669.6 1031.1,803.3 1094.5,757.6 928.1,864.0 1096.9,793.1 1150.3,574.3 1115.4,738.2 1205.0,688.5 1065.3,808.1 1134.4,781.8 1083.2,775.1 1187.8,789.6 1152.8,655.9 1134.0,743.1 1146.1,760.6 1224.0,664.5 1227.7,648.7 1197.4,670.1 1090.0,796.5 1143.6,796.6 981.4,856.0 1140.2,691.8 1131.1,765.1 1144.9,771.0 1055.4,828.0 1171.7,640.0 1145.2,785.8 992.5,827.3 1191.0,692.0 944.3,868.3 1200.5,590.3 1008.6,833.7 1128.7,820.7 993.2,858.5 1134.4,770.7 1137.9,810.0 1211.1,620.8 1105.0,777.9 1134.1,792.0 1024.5,849.6 1186.3,694.4 1074.5,830.4 1202.0,604.8 1044.9,804.5 1208.2,621.6 1153.8,664.5 1131.3,783.3 1204.8,740.2 1122.7,790.0 799.3,900.2 1219.7,654.2 1220.3,630.1 1220.3,755.7 1175.2,686.0 996.6,823.4 1111.5,831.9 1174.6,682.4 1077.4,839.9 1152.4,784.4 1223.6,657.1 1084.2,837.1 1080.4,777.0 1096.1,765.2 1094.8,751.2 1212.0,592.0 1160.7,663.3 1069.1,825.2 1061.2,838.1 1010.5,858.8 1116.0,776.2 1182.0,793.4 1167.3,734.7 947.7,860.0 880.1,885.6 1198.7,684.1 1005.4,830.3 1167.5,719.1 1193.1,784.5 1179.6,599.0 1119.8,796.3 1153.1,757.9 1198.5,610.7 1055.0,842.9 1133.2,729.2 970.6,871.4 894.2,885.9 1196.2,711.7 1133.5,759.4 1189.3,663.0 1167.4,683.8 1204.3,644.8 1027.7,833.0 1149.7,747.7 1228.5,579.1 1168.0,670.2 1094.2,831.6 1061.7,798.0 987.5,830.2 1157.0,773.6 1091.7,749.5 1181.6,774.8 1231.0,572.5 1213.0,655.5 1152.5,750.9 1044.2,816.9 1031.9,830.4 1204.9,684.0 1024.9,830.6 1054.7,815.3 1197.1,635.7 951.0,857.8 1012.8,835.5 1212.8,723.6 1218.0,642.5 1194.5,620.3 1209.6,618.7 1198.3,660.7 1170.4,722.0 1137.1,718.3 1037.8,821.0 1197.3,679.1 1137.6,695.7 1127.5,801.9 1021.8,813.9 1129.8,719.9 1116.3,813.7 1146.1,767.2 975.4,861.3 995.2,864.5 1213.7,681.6 1140.6,696.4 1115.6,745.8 1173.3,699.4 1165.0,755.1 1215.2,651.6 1126.4,809.5 1125.6,754.4 1166.1,771.1 948.8,867.4 1166.4,722.7 1204.5,581.1 1102.3,724.0 1090.4,826.1 1181.2,715.5 1089.5,810.0 1210.0,716.7 1135.2,749.6 1137.6,725.8 1157.7,661.0 1087.6,779.3 968.5,864.6 866.6,892.1 975.6,847.5 1211.2,604.6 1016.1,833.8 1205.7,589.1 1216.2,626.3 1148.5,737.9 1000.6,863.2 1188.5,745.8 972.5,857.3 1204.4,763.3 1071.1,815.9 977.9,851.4 1184.2,644.3 1154.5,738.1 1104.3,793.6 883.2,886.0 761.2,899.8 1222.5,650.0 1127.5,692.5 970.5,866.6 1198.1,718.8 1121.6,786.8 993.4,842.9 1132.4,761.6 1188.8,633.3 1176.7,631.4 1110.5,811.9 1169.7,785.4 1150.4,780.7 1139.1,673.5 1229.5,565.9 803.8,892.8 1195.0,742.1 1081.3,765.4 1078.5,771.1 1014.2,832.3 1078.2,764.4 1144.0,698.2 1096.5,801.2 781.9,901.0 897.3,887.9 1196.1,651.7 1219.2,687.4 980.3,850.6 1147.5,794.3 932.7,881.8 1156.3,750.6 987.7,868.7 1167.3,805.3 1047.9,796.0 1221.0,647.6 1179.2,779.4 1145.2,732.9 1212.7,750.0 1188.1,712.6 1183.0,653.8 1138.8,737.5 991.0,863.3 1070.4,820.3 1141.1,753.9 1221.8,699.6 841.2,890.0 1182.4,757.0 1079.9,789.1 1197.2,790.4 1200.7,623.1 1169.8,799.1 1172.2,662.3 1167.7,808.8 1137.9,729.3 945.4,874.1 1137.8,761.2 1265.4,539.0 1198.2,653.4 1097.5,776.6 1148.0,803.8 1065.9,847.2 996.2,818.7 1179.6,649.0 1079.8,831.4 1159.2,729.4 1059.1,848.3 925.1,878.2 1176.6,782.5 1008.0,858.6 825.5,893.0 1172.0,788.9 1191.6,761.4 1061.8,792.8 1203.0,584.5 1199.9,635.1 1188.2,769.4 1175.4,805.8 1208.5,752.4 966.3,860.1 1094.0,802.2 854.9,889.4 1136.6,792.1 1104.6,828.1 1059.1,802.4 1253.6,550.7 1212.8,731.2 1108.3,771.1 1120.2,706.9 1003.1,832.4 1166.0,783.2 1057.7,832.7 1207.1,571.2 1114.9,701.5 1223.6,672.8 1046.1,826.7 1161.5,735.4 1122.7,708.3 1165.7,798.7 1120.7,714.3 1188.1,761.3 991.9,849.4 1158.8,676.3 1218.9,605.1 864.6,886.6 1172.2,695.7 1117.0,719.3 1180.1,754.7 1052.0,811.4 1179.3,689.1 1163.1,808.2 1074.8,837.9 1085.8,759.4 1082.7,791.3 1221.6,684.1 1210.4,636.2 1009.9,839.9 1067.7,845.4 978.4,854.0 1203.1,769.2 1029.1,827.2 957.9,863.6 959.5,873.8 1184.9,758.3 912.5,882.2 1192.6,605.6 1225.4,604.0 1230.0,628.0 1093.7,789.7 1198.3,645.9 1115.9,791.8 1060.9,823.7 1031.2,847.0 1134.4,795.2 1113.9,778.4 1134.3,703.1 1207.3,767.9 1187.0,652.9 1015.8,829.6 1161.3,651.0 1205.7,650.7 873.3,892.7 1184.0,776.1 982.2,868.2 1094.0,743.0 1178.1,740.4 1190.0,708.3 1136.7,713.2 1235.4,568.0 1210.1,744.9 1087.6,757.3 1078.7,837.0 1196.0,626.9 1169.7,673.0 1144.1,773.4 1256.8,596.8 1229.8,701.9 1090.5,831.3 1176.5,764.3 1203.1,751.8 1101.9,836.6 1087.5,826.4 1045.2,801.8 1207.4,605.4 1124.1,737.6 1009.3,836.9 1227.8,643.3 1143.9,781.0 1089.4,817.6 1092.5,838.5 1104.8,731.7 1159.9,731.8 918.7,884.9 1199.0,723.8 1019.7,833.9 1232.4,611.6 1200.0,695.0 1184.4,629.1 865.5,896.5 1154.8,709.7 1125.7,698.3 1124.4,785.5 1183.9,639.9 1064.4,841.5 1022.9,804.0 1012.7,846.7 1156.5,762.2 1169.8,775.0 1120.0,735.5 1230.4,622.3 1062.4,809.3 1196.1,687.3 904.8,887.1 1216.4,634.0 1190.1,650.2 1219.3,516.4 1140.5,723.1 1114.8,804.4 1070.5,844.7 1181.9,723.0 1128.4,741.3 1166.2,764.9 979.8,844.7 1214.9,761.4 1060.2,814.6 1041.5,841.2 1039.7,836.5 827.1,898.4 1104.6,735.3 944.8,859.9 1029.3,854.7 1128.2,738.7 1146.8,809.5 915.2,880.9 1159.1,763.0 1145.7,763.8 1190.5,763.7 980.2,872.0 1212.8,737.5 1035.5,845.2 1207.4,565.1 1161.9,788.3 1225.3,623.6 1120.0,789.4 1186.7,739.2 1018.5,828.2 1036.8,800.5 1054.6,838.5 816.2,897.2 1018.6,809.6 1099.4,788.6 1193.0,616.2 1175.3,695.5 1210.5,686.2 1232.1,583.7 1100.6,729.0 1211.2,678.9 1208.2,576.3 1197.8,692.9 1213.5,713.6 1158.6,771.5 997.1,832.9 1141.7,787.6 1061.5,844.3 1062.4,784.5 1140.8,798.7 1176.3,654.1 1155.2,808.4 1134.8,811.1 1189.3,726.6 1163.5,743.4 1124.2,743.2 1102.4,747.4 1108.6,746.7 1165.2,780.6 1164.7,741.1 1075.8,763.4 1036.6,818.2 1159.6,757.3 1198.1,588.6 1107.5,737.1 1164.0,725.1 1125.2,721.2 1005.5,863.7 1127.4,702.7 1204.4,701.0 1175.9,760.9 1166.2,750.4 1231.2,604.4 1103.6,783.8 1196.3,662.4 1029.1,835.6 1218.8,592.2 1206.8,579.1 1147.0,689.2 825.2,900.1 1084.7,809.5 990.1,842.1 1225.7,717.5 1130.6,789.4 1198.4,768.8 1183.6,675.9 1138.3,731.8 1146.4,729.5 881.3,891.2 1192.2,687.3 1197.0,781.4 1164.9,718.7 1024.9,813.1 1227.7,612.9 1104.8,831.4 1123.7,733.2 1063.2,832.2 1032.1,823.3 1096.2,745.2 1174.8,753.6 1035.9,804.4 1147.7,702.3 1221.1,663.8 1188.6,723.5 1151.0,737.2 1160.6,638.1 1121.2,720.4 1140.1,776.3 976.9,844.4 1025.2,837.1 1230.1,592.9 1226.0,734.5 1201.4,638.6 1161.2,747.9 822.3,901.5 1179.6,789.0 948.4,875.5 1024.3,853.3 857.0,900.4 1097.7,827.6 1226.0,754.0 1107.5,820.1 1235.1,594.7 1187.2,704.6 1164.9,774.7 1172.5,708.4 1140.8,728.4 1174.9,636.8 1183.7,657.0 1232.4,624.3 1148.0,756.3 1085.4,804.2 800.9,897.1 1189.1,778.8 1206.4,562.0 1218.6,759.1 1167.7,781.1 1249.0,690.0 1064.7,793.6 1183.4,662.2 1203.1,773.1 1162.3,710.5 1020.8,826.0 1131.1,710.5 1209.2,560.9 1185.3,683.3 1224.3,690.1 1193.2,708.5 1099.0,736.0 1056.3,846.3 1050.3,842.9 1107.8,725.3 958.6,860.7 1139.0,676.7 1170.9,715.8 1126.0,761.2 1074.6,776.1 1117.5,724.9 1125.7,708.0 1192.6,751.0 941.6,866.3 1144.8,683.1 856.7,897.6 896.4,874.8 1191.2,672.4 1223.8,611.2 1167.9,711.9 1163.6,716.1 842.3,893.3 1188.1,687.0 1196.6,675.1 1167.8,744.1 1093.2,746.5 1205.0,679.1 1150.5,698.5 1180.0,675.7 1105.6,747.4 1113.8,749.0 1209.4,691.8 1185.9,631.3 1215.2,743.5 1201.4,641.4 1236.0,609.4 1055.7,795.9 1066.2,817.7 1230.6,596.5 1214.7,606.5 1159.5,653.3 983.4,844.7 1182.4,637.0 1198.7,640.5 1217.1,558.7 1137.1,687.7 1169.8,726.3 1180.5,768.6 1160.5,701.2 1058.5,835.5 1163.4,782.4 1048.2,802.8 1248.0,686.8 1103.2,819.2 1197.7,757.7 1014.6,826.3 1149.1,742.9 1067.3,777.8 1173.6,646.7 1108.4,767.2 1125.7,770.9 998.8,838.8 1143.8,723.2 1121.6,741.5 1062.9,788.0 1131.3,819.7 1211.0,587.4 966.2,866.2 976.9,868.8 1084.2,823.5 1044.9,807.5 1044.0,814.1 1123.3,762.1 1097.3,824.3 1170.9,783.1 1004.8,856.6 886.8,889.6 1003.9,843.5 874.9,882.3 1157.1,747.0 1219.1,735.6 1206.5,602.8 1160.7,704.4 1200.3,743.0 1028.7,824.5 1132.3,721.0 1200.4,780.3 1143.3,720.3 1161.1,656.1 1251.4,639.6 1202.0,692.5 846.5,895.2 1116.9,713.6 812.6,893.1 1076.9,791.6 1034.1,815.5 1027.2,818.9 1183.3,688.7 1230.1,590.2 1180.1,704.2 990.1,847.4 1071.2,797.1 1189.0,784.9 1170.9,756.9 1156.0,680.3 1184.9,670.9 1017.2,857.8 1144.3,799.6 932.4,870.0 1195.9,784.4 1146.2,714.9 976.1,856.7 1192.1,788.0 1208.6,676.5 1004.8,838.1 957.8,856.0 1156.3,742.6 1202.6,754.7 1161.8,771.2 1081.1,786.7 1149.2,676.3 1128.3,805.4 1170.7,766.6 993.4,861.4 1062.3,827.6 1130.5,748.8 1055.1,784.2 1115.0,742.3 1193.0,694.6 1210.2,655.3 1179.0,765.2 1171.4,805.6 1033.3,841.6 1064.7,829.1 985.0,839.2 1069.6,769.8 1203.3,680.9 1161.5,642.7 1002.6,850.2 1102.0,751.0 1163.9,664.8 1180.6,741.8 1074.7,783.8 936.9,864.8 1167.7,706.4 1148.2,663.8 1159.1,671.6 1167.5,652.2 1227.7,738.1 1113.3,705.3 919.1,871.8 1102.0,810.7 1203.1,658.6 1119.3,822.0 975.2,852.8 1228.3,697.4 1218.5,569.8 941.7,869.4 1196.6,594.3 1193.2,756.5 1201.6,703.3 982.1,847.0 1203.0,587.1 1022.6,808.2 1091.2,782.8 1039.3,839.5 940.9,872.0 1220.1,701.5 986.9,853.6 1155.6,732.0 1156.4,718.4 1148.0,778.2 1186.4,642.5 1225.6,635.6 835.2,897.6 1176.5,793.3 1161.2,797.6 832.2,896.2 1175.3,758.4 1025.2,844.4 1192.1,767.4 1028.7,842.1 1131.2,680.3 1184.0,745.6 796.0,899.1 1207.4,584.1 1130.9,702.1 1161.2,776.1 1016.9,855.1 1200.6,631.9 1213.3,625.6 1195.8,614.6 1195.5,639.2 1189.6,735.9 1046.6,813.8 1151.1,727.8 1110.4,764.6 1216.2,619.3 1143.7,694.4 1222.7,731.2 949.1,870.3 1124.2,692.1 1149.8,659.8 1210.8,633.1 1063.3,790.5 1161.9,659.1 1146.2,692.0 1146.0,806.8 1132.8,786.1 1210.9,755.3 804.0,901.0 1139.1,703.1 1174.1,768.5 1209.7,673.3 1218.9,726.8 1195.2,601.2 1121.1,724.0 1113.4,823.2 1142.1,737.3 1033.1,795.3 1108.0,752.9 1037.0,833.9 1148.7,710.8 1122.8,757.9 1155.9,755.7 1110.1,826.1 1222.5,626.9 1150.0,717.7 1079.1,780.9 928.9,869.7 907.1,870.8 1032.6,798.8 1163.5,757.8 1169.3,691.9 1096.1,772.9 1185.0,769.8 1174.8,744.3 1154.0,712.4 1106.1,754.9 1114.9,820.5 1153.6,774.4 1093.5,797.0 1077.8,808.8 1087.7,832.7 1055.1,792.4 1047.5,843.1 1032.2,811.1 1172.2,727.7 1102.9,760.0 935.3,871.8 930.1,878.7 1071.3,781.2 1125.0,717.9 1161.9,760.7 1072.0,804.8 1109.1,729.0 932.6,875.8 990.4,856.1 1191.6,602.7 1113.5,830.0 1091.5,766.8 1076.2,818.6 1225.3,748.9 1180.8,782.4 1100.1,743.2 1112.1,805.4 1153.0,651.4 1192.5,703.7 1220.0,690.0 1118.5,731.2 922.5,882.2 1177.2,671.2 1172.6,684.0 1174.3,679.0 1125.6,689.0 1060.7,780.6 1101.5,800.8 1194.2,665.7 1112.3,738.7 1227.2,586.8 1209.6,730.9 1101.8,824.4 1140.6,809.3 985.9,834.9 1153.9,716.1 1116.9,710.2 1161.2,646.3 1154.3,791.8 1093.3,779.6 1164.5,736.5 1030.4,813.0 1026.2,809.8 1217.4,597.2 953.4,871.6 1187.3,677.1 1006.3,818.4 1177.5,768.4 1204.6,630.1 1023.8,801.3 1181.5,650.8 1221.0,656.9 816.9,894.7 1213.3,557.7 830.5,900.7 1089.2,753.9 862.6,892.2 885.2,882.0 1184.3,752.1 898.9,885.7 1140.2,735.0 1210.7,644.0 1155.4,782.9 1104.9,801.6 1136.3,798.0 1191.0,797.2 1217.8,657.8 1073.5,779.3 1170.5,682.0 1165.8,767.4 1152.9,682.0 1069.0,752.5 1182.8,761.1 1109.7,818.3 1161.0,783.7 1010.8,829.6 1199.3,663.2 1156.1,654.1 1125.0,797.6 1102.1,780.8 1182.2,625.6 1085.4,791.7" fill="none" stroke="none" marker-start="url(#mT)" marker-mid="url(#mT)" marker-end="url(#mT)"/>
<path d="M102.5,15L102.5,455.5" stroke="#000" stroke-width="3" fill="none"/>
<path d="M95.5,16.5L705.5,16.5" stroke="#000" stroke-width="3" fill="none"/>
<path d="M704,15L704,455.5" stroke="#000" stroke-width="3" fill="none"/>
<path d="M95.5,445L705.5,445" stroke="#000" stroke-width="3" fill="none"/>
<path d="M140.6,16.5V21M175.6,16.5V21M210.7,16.5V21M245.7,16.5V21M280.8,16.5V21M315.9,16.5V21M350.9,16.5V21M386.0,16.5V21M421.0,16.5V21M456.1,16.5V21M491.2,16.5V21M526.2,16.5V21M561.3,16.5V21M596.3,16.5V21M631.4,16.5V21M666.5,16.5V21" stroke="#000" stroke-width="2.7" fill="none" stroke-linecap="round"/>
<path d="M140.6,441.5V454.5M175.6,441.5V454.5M210.7,441.5V454.5M245.7,441.5V454.5M280.8,441.5V454.5M315.9,441.5V454.5M350.9,441.5V454.5M386.0,441.5V454.5M421.0,441.5V454.5M456.1,441.5V454.5M491.2,441.5V454.5M526.2,441.5V454.5M561.3,441.5V454.5M596.3,441.5V454.5M631.4,441.5V454.5M666.5,441.5V454.5" stroke="#000" stroke-width="2.7" fill="none" stroke-linecap="round"/>
<path d="M95.5,16.5H102.5M95.5,85.2H102.5M95.5,157H102.5M95.5,229H102.5M95.5,300.8H102.5M95.5,372.6H102.5M95.5,445H102.5" stroke="#000" stroke-width="3" fill="none"/>
<path d="M715.5,11.5L715.5,455.5" stroke="#000" stroke-width="3" fill="none"/>
<path d="M714,13L1314.5,13" stroke="#000" stroke-width="3" fill="none"/>
<path d="M1314.5,14L1314.5,455.5" stroke="#000" stroke-width="3" fill="none"/>
<path d="M714,445L1316,445" stroke="#000" stroke-width="3" fill="none"/>
<path d="M750.7,13V17.5M785.9,13V17.5M821.2,13V17.5M856.4,13V17.5M891.6,13V17.5M926.8,13V17.5M962.0,13V17.5M997.2,13V17.5M1032.5,13V17.5M1067.7,13V17.5M1102.9,13V17.5M1138.1,13V17.5M1173.3,13V17.5M1208.5,13V17.5M1243.8,13V17.5M1279.0,13V17.5" stroke="#000" stroke-width="2.7" fill="none" stroke-linecap="round"/>
<path d="M750.7,441.5V454.5M785.9,441.5V454.5M821.2,441.5V454.5M856.4,441.5V454.5M891.6,441.5V454.5M926.8,441.5V454.5M962.0,441.5V454.5M997.2,441.5V454.5M1032.5,441.5V454.5M1067.7,441.5V454.5M1102.9,441.5V454.5M1138.1,441.5V454.5M1173.3,441.5V454.5M1208.5,441.5V454.5M1243.8,441.5V454.5M1279.0,441.5V454.5" stroke="#000" stroke-width="2.7" fill="none" stroke-linecap="round"/>
<path d="M1310.3,99.6H1314.5M1310.3,186H1314.5M1310.3,272.3H1314.5M1310.3,358.6H1314.5" stroke="#000" stroke-width="2.2" fill="none"/>
<path d="M105.5,460.5L105.5,907" stroke="#000" stroke-width="3" fill="none"/>
<path d="M98.5,471L705.5,471" stroke="#000" stroke-width="3" fill="none"/>
<path d="M704,460.5L704,907" stroke="#000" stroke-width="3" fill="none"/>
<path d="M98.5,899.5L705.5,899.5" stroke="#000" stroke-width="3" fill="none"/>
<path d="M140.6,461.5V474.5M175.6,461.5V474.5M210.7,461.5V474.5M245.7,461.5V474.5M280.8,461.5V474.5M315.9,461.5V474.5M350.9,461.5V474.5M386.0,461.5V474.5M421.0,461.5V474.5M456.1,461.5V474.5M491.2,461.5V474.5M526.2,461.5V474.5M561.3,461.5V474.5M596.3,461.5V474.5M631.4,461.5V474.5M666.5,461.5V474.5" stroke="#000" stroke-width="2.7" fill="none" stroke-linecap="round"/>
<path d="M140.6,896V906M175.6,896V906M210.7,896V906M245.7,896V906M280.8,896V906M315.9,896V906M350.9,896V906M386.0,896V906M421.0,896V906M456.1,896V906M491.2,896V906M526.2,896V906M561.3,896V906M596.3,896V906M631.4,896V906M666.5,896V906" stroke="#000" stroke-width="2.7" fill="none" stroke-linecap="round"/>
<path d="M98.5,471H105.5M98.5,554.2H105.5M98.5,640.5H105.5M98.5,727.4H105.5M98.5,813.4H105.5M98.5,899.5H105.5" stroke="#000" stroke-width="3" fill="none"/>
<path d="M715.5,457.5L715.5,907" stroke="#000" stroke-width="3" fill="none"/>
<path d="M714,468L1316,468" stroke="#000" stroke-width="3" fill="none"/>
<path d="M1314.5,457.5L1314.5,907" stroke="#000" stroke-width="3" fill="none"/>
<path d="M714,899.5L1316,899.5" stroke="#000" stroke-width="3" fill="none"/>
<path d="M750.7,458.5V471.5M785.9,458.5V471.5M821.2,458.5V471.5M856.4,458.5V471.5M891.6,458.5V471.5M926.8,458.5V471.5M962.0,458.5V471.5M997.2,458.5V471.5M1032.5,458.5V471.5M1067.7,458.5V471.5M1102.9,458.5V471.5M1138.1,458.5V471.5M1173.3,458.5V471.5M1208.5,458.5V471.5M1243.8,458.5V471.5M1279.0,458.5V471.5" stroke="#000" stroke-width="2.7" fill="none" stroke-linecap="round"/>
<path d="M750.7,896V906M785.9,896V906M821.2,896V906M856.4,896V906M891.6,896V906M926.8,896V906M962.0,896V906M997.2,896V906M1032.5,896V906M1067.7,896V906M1102.9,896V906M1138.1,896V906M1173.3,896V906M1208.5,896V906M1243.8,896V906M1279.0,896V906" stroke="#000" stroke-width="2.7" fill="none" stroke-linecap="round"/>
<path d="M1310.3,528.6H1314.5M1310.3,588.5H1314.5M1310.3,652.6H1314.5M1310.3,712.5H1314.5M1310.3,776.3H1314.5M1310.3,837H1314.5" stroke="#000" stroke-width="2.2" fill="none"/>
<path d="M105.5,918.5L105.5,1362" stroke="#000" stroke-width="3" fill="none"/>
<path d="M98.5,926L703,926" stroke="#000" stroke-width="3" fill="none"/>
<path d="M701.5,918.5L701.5,1362" stroke="#000" stroke-width="3" fill="none"/>
<path d="M98.5,1355L703,1355" stroke="#000" stroke-width="3" fill="none"/>
<path d="M140.6,919.5V929.5M175.6,919.5V929.5M210.7,919.5V929.5M245.7,919.5V929.5M280.8,919.5V929.5M315.9,919.5V929.5M350.9,919.5V929.5M386.0,919.5V929.5M421.0,919.5V929.5M456.1,919.5V929.5M491.2,919.5V929.5M526.2,919.5V929.5M561.3,919.5V929.5M596.3,919.5V929.5M631.4,919.5V929.5M666.5,919.5V929.5" stroke="#000" stroke-width="2.7" fill="none" stroke-linecap="round"/>
<path d="M140.6,1351.5V1361M175.6,1351.5V1361M210.7,1351.5V1361M245.7,1351.5V1361M280.8,1351.5V1361M315.9,1351.5V1361M350.9,1351.5V1361M386.0,1351.5V1361M421.0,1351.5V1361M456.1,1351.5V1361M491.2,1351.5V1361M526.2,1351.5V1361M561.3,1351.5V1361M596.3,1351.5V1361M631.4,1351.5V1361M666.5,1351.5V1361" stroke="#000" stroke-width="2.7" fill="none" stroke-linecap="round"/>
<path d="M98.5,926H105.5M98.5,986.3H105.5M98.5,1047H105.5M98.5,1109H105.5M98.5,1170.3H105.5M98.5,1231.4H105.5M98.5,1293H105.5M98.5,1355H105.5" stroke="#000" stroke-width="3" fill="none"/>
<g stroke="#000" stroke-width="0.45" stroke-linejoin="round">
<text x="84.5" y="23.345" font-size="27.5" text-anchor="end">30</text>
<text x="84.5" y="95.045" font-size="27.5" text-anchor="end">25</text>
<text x="84.5" y="166.845" font-size="27.5" text-anchor="end">20</text>
<text x="84.5" y="238.845" font-size="27.5" text-anchor="end">15</text>
<text x="84.5" y="310.645" font-size="27.5" text-anchor="end">10</text>
<text x="84.5" y="382.445" font-size="27.5" text-anchor="end">5</text>
<text x="84.5" y="454.845" font-size="27.5" text-anchor="end">0</text>
<text x="84.5" y="479.845" font-size="27.5" text-anchor="end">25</text>
<text x="84.5" y="564.045" font-size="27.5" text-anchor="end">20</text>
<text x="84.5" y="650.345" font-size="27.5" text-anchor="end">15</text>
<text x="84.5" y="737.245" font-size="27.5" text-anchor="end">10</text>
<text x="84.5" y="823.245" font-size="27.5" text-anchor="end">5</text>
<text x="84.5" y="906.845" font-size="27.5" text-anchor="end">0</text>
<text x="84.5" y="932.845" font-size="27.5" text-anchor="end">14</text>
<text x="84.5" y="996.145" font-size="27.5" text-anchor="end">12</text>
<text x="84.5" y="1056.85" font-size="27.5" text-anchor="end">10</text>
<text x="84.5" y="1118.85" font-size="27.5" text-anchor="end">8</text>
<text x="84.5" y="1180.14" font-size="27.5" text-anchor="end">6</text>
<text x="84.5" y="1241.25" font-size="27.5" text-anchor="end">4</text>
<text x="84.5" y="1302.85" font-size="27.5" text-anchor="end">2</text>
<text x="84.5" y="1363.85" font-size="27.5" text-anchor="end">0</text>
<text x="1327" y="23.345" font-size="27.5" text-anchor="start">25</text>
<text x="1327" y="109.645" font-size="27.5" text-anchor="start">20</text>
<text x="1327" y="195.845" font-size="27.5" text-anchor="start">15</text>
<text x="1327" y="282.145" font-size="27.5" text-anchor="start">10</text>
<text x="1327" y="368.445" font-size="27.5" text-anchor="start">5</text>
<text x="1327" y="454.845" font-size="27.5" text-anchor="start">0</text>
<text x="1327" y="475.345" font-size="27.5" text-anchor="start">14</text>
<text x="1327" y="537.845" font-size="27.5" text-anchor="start">12</text>
<text x="1327" y="598.845" font-size="27.5" text-anchor="start">10</text>
<text x="1327" y="659.845" font-size="27.5" text-anchor="start">8</text>
<text x="1327" y="722.345" font-size="27.5" text-anchor="start">6</text>
<text x="1327" y="783.845" font-size="27.5" text-anchor="start">4</text>
<text x="1327" y="845.845" font-size="27.5" text-anchor="start">2</text>
<text x="1327" y="906.545" font-size="27.5" text-anchor="start">0</text>
<text x="105.5" y="1391" font-size="23" text-anchor="middle">0</text>
<text x="140.56" y="1391" font-size="23" text-anchor="middle">5</text>
<text x="174.82" y="1391" font-size="23" text-anchor="middle" textLength="23.6" lengthAdjust="spacingAndGlyphs">10</text>
<text x="209.88" y="1391" font-size="23" text-anchor="middle" textLength="23.6" lengthAdjust="spacingAndGlyphs">15</text>
<text x="244.94" y="1391" font-size="23" text-anchor="middle" textLength="23.6" lengthAdjust="spacingAndGlyphs">20</text>
<text x="280" y="1391" font-size="23" text-anchor="middle" textLength="23.6" lengthAdjust="spacingAndGlyphs">25</text>
<text x="315.06" y="1391" font-size="23" text-anchor="middle" textLength="23.6" lengthAdjust="spacingAndGlyphs">30</text>
<text x="350.12" y="1391" font-size="23" text-anchor="middle" textLength="23.6" lengthAdjust="spacingAndGlyphs">35</text>
<text x="385.18" y="1391" font-size="23" text-anchor="middle" textLength="23.6" lengthAdjust="spacingAndGlyphs">40</text>
<text x="420.24" y="1391" font-size="23" text-anchor="middle" textLength="23.6" lengthAdjust="spacingAndGlyphs">45</text>
<text x="455.3" y="1391" font-size="23" text-anchor="middle" textLength="23.6" lengthAdjust="spacingAndGlyphs">50</text>
<text x="490.36" y="1391" font-size="23" text-anchor="middle" textLength="23.6" lengthAdjust="spacingAndGlyphs">55</text>
<text x="525.42" y="1391" font-size="23" text-anchor="middle" textLength="23.6" lengthAdjust="spacingAndGlyphs">60</text>
<text x="560.48" y="1391" font-size="23" text-anchor="middle" textLength="23.6" lengthAdjust="spacingAndGlyphs">65</text>
<text x="595.54" y="1391" font-size="23" text-anchor="middle" textLength="23.6" lengthAdjust="spacingAndGlyphs">70</text>
<text x="630.6" y="1391" font-size="23" text-anchor="middle" textLength="23.6" lengthAdjust="spacingAndGlyphs">75</text>
<text x="665.66" y="1391" font-size="23" text-anchor="middle" textLength="23.6" lengthAdjust="spacingAndGlyphs">80</text>
<text x="700.7" y="1391" font-size="23" text-anchor="middle" textLength="23.6" lengthAdjust="spacingAndGlyphs">85</text>
<text x="715.5" y="936" font-size="23" text-anchor="middle">0</text>
<text x="750.718" y="936" font-size="23" text-anchor="middle">5</text>
<text x="785.136" y="936" font-size="23" text-anchor="middle" textLength="23.6" lengthAdjust="spacingAndGlyphs">10</text>
<text x="820.353" y="936" font-size="23" text-anchor="middle" textLength="23.6" lengthAdjust="spacingAndGlyphs">15</text>
<text x="855.571" y="936" font-size="23" text-anchor="middle" textLength="23.6" lengthAdjust="spacingAndGlyphs">20</text>
<text x="890.789" y="936" font-size="23" text-anchor="middle" textLength="23.6" lengthAdjust="spacingAndGlyphs">25</text>
<text x="926.007" y="936" font-size="23" text-anchor="middle" textLength="23.6" lengthAdjust="spacingAndGlyphs">30</text>
<text x="961.224" y="936" font-size="23" text-anchor="middle" textLength="23.6" lengthAdjust="spacingAndGlyphs">35</text>
<text x="996.442" y="936" font-size="23" text-anchor="middle" textLength="23.6" lengthAdjust="spacingAndGlyphs">40</text>
<text x="1031.66" y="936" font-size="23" text-anchor="middle" textLength="23.6" lengthAdjust="spacingAndGlyphs">45</text>
<text x="1066.88" y="936" font-size="23" text-anchor="middle" textLength="23.6" lengthAdjust="spacingAndGlyphs">50</text>
<text x="1102.1" y="936" font-size="23" text-anchor="middle" textLength="23.6" lengthAdjust="spacingAndGlyphs">55</text>
<text x="1137.31" y="936" font-size="23" text-anchor="middle" textLength="23.6" lengthAdjust="spacingAndGlyphs">60</text>
<text x="1172.53" y="936" font-size="23" text-anchor="middle" textLength="23.6" lengthAdjust="spacingAndGlyphs">65</text>
<text x="1207.75" y="936" font-size="23" text-anchor="middle" textLength="23.6" lengthAdjust="spacingAndGlyphs">70</text>
<text x="1242.97" y="936" font-size="23" text-anchor="middle" textLength="23.6" lengthAdjust="spacingAndGlyphs">75</text>
<text x="1278.18" y="936" font-size="23" text-anchor="middle" textLength="23.6" lengthAdjust="spacingAndGlyphs">80</text>
<text x="1313.7" y="936" font-size="23" text-anchor="middle" textLength="23.6" lengthAdjust="spacingAndGlyphs">85</text>
<text x="305" y="1453.6" font-size="36" text-anchor="start" textLength="198.6" lengthAdjust="spacingAndGlyphs">Length (mm)</text>
<text x="915.4" y="998.6" font-size="36" text-anchor="start" textLength="198.2" lengthAdjust="spacingAndGlyphs">Length (mm)</text>
<text transform="translate(32,228) rotate(-90)" font-size="36" text-anchor="middle" textLength="189.1" lengthAdjust="spacingAndGlyphs">Height (mm)</text>
<text transform="translate(35,686) rotate(-90)" font-size="36" text-anchor="middle" textLength="223.7" lengthAdjust="spacingAndGlyphs">Total Mass (g)</text>
<text transform="translate(29,1139) rotate(-90)" font-size="36" text-anchor="middle" textLength="220.8" lengthAdjust="spacingAndGlyphs">Shell Mass (g)</text>
<text transform="translate(1370.5,228.6) rotate(90)" font-size="37.5" text-anchor="middle" textLength="181" lengthAdjust="spacingAndGlyphs">Width (mm)</text>
<text transform="translate(1367.7,682.6) rotate(90)" font-size="37" text-anchor="middle" textLength="149.4" lengthAdjust="spacingAndGlyphs">SFDM (g)</text>
<text x="148" y="86" font-size="27.5" textLength="241" lengthAdjust="spacingAndGlyphs">H = 1.05 + 0.32 * L</text>
<text x="206" y="128.4" font-size="27.5" textLength="124" lengthAdjust="spacingAndGlyphs">R<tspan dy="-11">2</tspan><tspan dy="11"> = 0.97</tspan></text>
<text x="767" y="88.7" font-size="27.5" textLength="255.3" lengthAdjust="spacingAndGlyphs">W = -0.84 + 0.24 * L</text>
<text x="835" y="131.4" font-size="27.5" textLength="120" lengthAdjust="spacingAndGlyphs">R<tspan dy="-11">2</tspan><tspan dy="11"> = 0.96</tspan></text>
<text x="141.7" y="546" font-size="27.5" textLength="196.6" lengthAdjust="spacingAndGlyphs">TM = 2.5e-5 * L</text>
<text x="339.3" y="535.7" font-size="27.5" textLength="53.8" lengthAdjust="spacingAndGlyphs">3.14</text>
<text x="210.3" y="589.4" font-size="27.5" textLength="123.4" lengthAdjust="spacingAndGlyphs">R<tspan dy="-11">2</tspan><tspan dy="11"> = 0.93</tspan></text>
<text x="753.7" y="535.5" font-size="27.5" textLength="235.4" lengthAdjust="spacingAndGlyphs">SFDM = 9.1e-5 * L</text>
<text x="990.1" y="523.5" font-size="27.5" textLength="53.9" lengthAdjust="spacingAndGlyphs">2.65</text>
<text x="838.3" y="577.8" font-size="27.5" textLength="122.3" lengthAdjust="spacingAndGlyphs">R<tspan dy="-11">2</tspan><tspan dy="11"> = 0.82</tspan></text>
<text x="132.6" y="1010.1" font-size="27.5" textLength="212.5" lengthAdjust="spacingAndGlyphs">SM = 8.29e-7 * L</text>
<text x="346.1" y="1001.4" font-size="27.5" textLength="53.9" lengthAdjust="spacingAndGlyphs">3.76</text>
<text x="204.6" y="1052.4" font-size="27.5" textLength="123.4" lengthAdjust="spacingAndGlyphs">R<tspan dy="-11">2</tspan><tspan dy="11"> = 0.89</tspan></text>
</g>
</svg></body></html>
